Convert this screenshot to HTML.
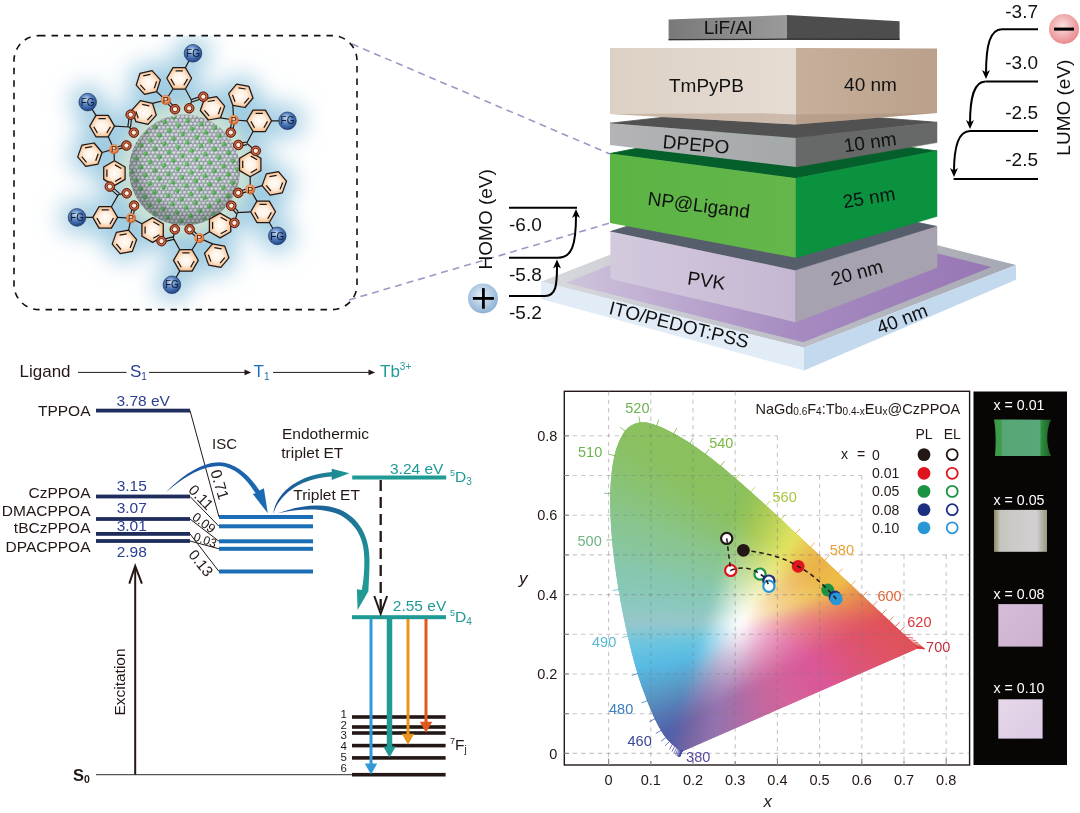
<!DOCTYPE html>
<html><head><meta charset="utf-8"><title>figure</title>
<style>
html,body{margin:0;padding:0;background:#fff;}
body{width:1080px;height:813px;overflow:hidden;position:relative;font-family:"Liberation Sans",sans-serif;}
svg{position:absolute;left:0;top:0;}
canvas{position:absolute;}
.fb rect{width:7px;height:7px;}
</style></head><body>
<svg class="fb" width="1080" height="813" viewBox="0 0 1080 813"><defs><clipPath id="fbc"><path d="M682.1 751.4 L682.1 751.4 L682.1 751.4 L682.0 751.4 L682.0 751.4 L682.0 751.4 L682.0 751.4 L682.0 751.4 L682.0 751.4 L682.0 751.4 L681.9 751.5 L681.9 751.5 L681.9 751.5 L681.9 751.5 L681.9 751.5 L681.9 751.5 L681.8 751.5 L681.8 751.5 L681.8 751.5 L681.8 751.5 L681.7 751.5 L681.7 751.5 L681.7 751.5 L681.7 751.5 L681.6 751.5 L681.6 751.5 L681.6 751.5 L681.5 751.5 L681.5 751.5 L681.5 751.5 L681.4 751.5 L681.4 751.5 L681.4 751.5 L681.3 751.5 L681.3 751.5 L681.2 751.5 L681.2 751.5 L681.1 751.5 L681.1 751.4 L681.0 751.4 L680.9 751.4 L680.9 751.3 L680.8 751.3 L680.7 751.2 L680.6 751.2 L680.5 751.1 L680.4 751.0 L680.3 750.9 L680.1 750.9 L680.0 750.8 L679.9 750.7 L679.7 750.5 L679.6 750.4 L679.4 750.3 L679.2 750.1 L679.0 750.0 L678.8 749.8 L678.6 749.6 L678.4 749.5 L678.2 749.3 L678.0 749.1 L677.7 748.9 L677.5 748.6 L677.2 748.4 L676.9 748.2 L676.6 747.9 L676.2 747.6 L675.9 747.4 L675.5 747.0 L675.1 746.7 L674.7 746.4 L674.3 746.0 L673.8 745.6 L673.3 745.3 L672.8 744.8 L672.3 744.4 L671.8 743.9 L671.2 743.4 L670.6 742.9 L670.0 742.3 L669.4 741.6 L668.7 740.9 L668.0 740.2 L667.3 739.5 L666.6 738.6 L665.8 737.6 L664.9 736.4 L664.0 735.1 L663.0 733.8 L662.0 732.2 L661.0 730.5 L659.9 728.5 L658.7 726.5 L657.5 724.2 L656.2 721.7 L654.9 718.9 L653.4 715.9 L652.0 712.6 L650.4 709.0 L648.8 705.0 L647.1 700.7 L645.3 696.0 L643.5 691.1 L641.5 685.7 L639.5 679.9 L637.6 673.7 L635.6 667.1 L633.7 659.9 L631.7 652.4 L629.7 644.5 L627.8 636.3 L625.8 627.6 L623.9 618.4 L622.0 608.9 L620.2 599.3 L618.5 589.6 L617.0 579.7 L615.5 569.6 L614.2 559.5 L613.0 549.5 L612.1 539.7 L611.3 530.0 L610.7 520.5 L610.3 511.2 L610.1 502.1 L610.2 493.4 L610.6 485.1 L611.2 477.1 L612.0 469.4 L613.1 462.2 L614.5 455.6 L616.1 449.6 L618.0 444.0 L620.2 439.1 L622.5 434.7 L625.0 431.0 L627.7 428.1 L630.6 425.9 L633.6 424.2 L636.8 423.1 L640.0 422.4 L643.2 422.2 L646.5 422.5 L649.9 423.3 L653.4 424.3 L656.8 425.4 L660.2 426.7 L663.7 428.2 L667.1 429.9 L670.5 431.7 L673.9 433.5 L677.2 435.3 L680.4 437.1 L683.6 439.1 L686.8 441.1 L690.0 443.1 L693.1 445.2 L696.3 447.3 L699.3 449.5 L702.4 451.7 L705.5 453.9 L708.6 456.2 L711.6 458.6 L714.7 461.0 L717.7 463.4 L720.8 465.9 L723.8 468.3 L726.8 470.9 L729.8 473.4 L732.9 476.0 L735.9 478.6 L738.9 481.2 L741.9 483.8 L744.9 486.5 L747.9 489.1 L750.9 491.8 L754.0 494.5 L757.0 497.2 L760.0 500.0 L763.0 502.7 L766.0 505.5 L769.1 508.2 L772.1 511.0 L775.1 513.8 L778.1 516.6 L781.1 519.3 L784.1 522.1 L787.1 524.9 L790.1 527.7 L793.0 530.4 L796.0 533.2 L799.0 535.9 L801.9 538.7 L804.8 541.4 L807.8 544.2 L810.7 546.9 L813.5 549.6 L816.4 552.3 L819.2 554.9 L822.1 557.6 L824.9 560.2 L827.7 562.8 L830.4 565.4 L833.1 568.0 L835.8 570.5 L838.5 573.0 L841.1 575.5 L843.7 577.9 L846.3 580.3 L848.9 582.7 L851.3 585.0 L853.8 587.3 L856.2 589.5 L858.5 591.7 L860.8 593.9 L863.0 596.0 L865.2 598.0 L867.3 600.0 L869.3 601.9 L871.3 603.7 L873.2 605.5 L875.1 607.3 L876.9 609.0 L878.7 610.7 L880.5 612.3 L882.1 613.9 L883.7 615.4 L885.3 616.8 L886.8 618.2 L888.2 619.5 L889.6 620.8 L890.9 622.0 L892.1 623.2 L893.3 624.4 L894.5 625.4 L895.6 626.5 L896.7 627.5 L897.7 628.4 L898.6 629.3 L899.5 630.2 L900.4 631.0 L901.3 631.8 L902.1 632.5 L902.8 633.2 L903.5 633.9 L904.3 634.6 L904.9 635.2 L905.6 635.8 L906.2 636.4 L906.8 636.9 L907.3 637.5 L907.9 638.0 L908.4 638.5 L908.9 639.0 L909.4 639.4 L909.9 639.9 L910.4 640.3 L910.8 640.7 L911.2 641.1 L911.6 641.5 L912.0 641.9 L912.4 642.2 L912.7 642.6 L913.1 642.9 L913.4 643.2 L913.7 643.4 L914.0 643.7 L914.3 643.9 L914.5 644.2 L914.7 644.4 L915.0 644.6 L915.2 644.8 L915.4 645.0 L915.6 645.2 L915.8 645.4 L915.9 645.5 L916.1 645.7 L916.3 645.8 L916.4 646.0 L916.5 646.1 L916.7 646.2 L916.8 646.3 L916.9 646.4 L917.0 646.5 L917.0 646.6 L917.1 646.6 L917.2 646.7 L917.3 646.8 L917.4 646.9 L917.4 646.9 L917.5 647.0 L917.6 647.1 L917.6 647.1 L917.7 647.2 L917.7 647.2 L917.8 647.3 L917.9 647.3 L917.9 647.4 L918.0 647.5 L918.0 647.5 L918.1 647.6 L918.1 647.6 L918.2 647.7 L918.3 647.7 L918.3 647.8 L918.3 647.8 L918.4 647.8 L918.4 647.9 L918.5 647.9 L918.5 647.9 L918.5 648.0 L918.5 648.0 L918.6 648.0 L918.6 648.0 L918.6 648.0 L918.6 648.0 L918.6 648.0 L918.6 648.1 L918.6 648.1 L918.6 648.1 L918.6 648.1 Z"/></clipPath><filter id="fbf" x="-5%" y="-5%" width="110%" height="110%"><feGaussianBlur stdDeviation="3"/></filter></defs><g clip-path="url(#fbc)"><g filter="url(#fbf)"><rect x="628" y="410" fill="#8ac05d"/><rect x="635" y="410" fill="#8ac05d"/><rect x="642" y="410" fill="#8ac05d"/><rect x="649" y="410" fill="#8ac05d"/><rect x="656" y="410" fill="#8ac05d"/><rect x="614" y="417" fill="#8ac05d"/><rect x="621" y="417" fill="#8ac05d"/><rect x="628" y="417" fill="#8ac05d"/><rect x="635" y="417" fill="#8ac05d"/><rect x="642" y="417" fill="#8ac05d"/><rect x="649" y="417" fill="#8ac05d"/><rect x="656" y="417" fill="#8ac05d"/><rect x="663" y="417" fill="#8ac05d"/><rect x="670" y="417" fill="#8ac05d"/><rect x="614" y="424" fill="#89c05d"/><rect x="621" y="424" fill="#8ac05d"/><rect x="628" y="424" fill="#8ac05d"/><rect x="635" y="424" fill="#8ac05d"/><rect x="642" y="424" fill="#8ac05d"/><rect x="649" y="424" fill="#8ac05d"/><rect x="656" y="424" fill="#8ac05d"/><rect x="663" y="424" fill="#8ac05d"/><rect x="670" y="424" fill="#8ac05d"/><rect x="677" y="424" fill="#8ac05d"/><rect x="684" y="424" fill="#8ac05d"/><rect x="607" y="431" fill="#89c062"/><rect x="614" y="431" fill="#89c05f"/><rect x="621" y="431" fill="#89c05e"/><rect x="628" y="431" fill="#8ac05d"/><rect x="635" y="431" fill="#8ac05d"/><rect x="642" y="431" fill="#8ac05d"/><rect x="649" y="431" fill="#8ac05d"/><rect x="656" y="431" fill="#8ac05d"/><rect x="663" y="431" fill="#8ac05d"/><rect x="670" y="431" fill="#8ac05d"/><rect x="677" y="431" fill="#8ac05d"/><rect x="684" y="431" fill="#8ac05d"/><rect x="691" y="431" fill="#8ac05d"/><rect x="698" y="431" fill="#8ac05d"/><rect x="607" y="438" fill="#89c065"/><rect x="614" y="438" fill="#89c062"/><rect x="621" y="438" fill="#89c060"/><rect x="628" y="438" fill="#89c05e"/><rect x="635" y="438" fill="#8ac05d"/><rect x="642" y="438" fill="#8ac05d"/><rect x="649" y="438" fill="#8ac05d"/><rect x="656" y="438" fill="#8ac05d"/><rect x="663" y="438" fill="#8ac05d"/><rect x="670" y="438" fill="#8ac05d"/><rect x="677" y="438" fill="#8ac05d"/><rect x="684" y="438" fill="#8ac05d"/><rect x="691" y="438" fill="#8ac05d"/><rect x="698" y="438" fill="#8ac05d"/><rect x="705" y="438" fill="#8ac05d"/><rect x="607" y="445" fill="#89c168"/><rect x="614" y="445" fill="#89c066"/><rect x="621" y="445" fill="#89c063"/><rect x="628" y="445" fill="#89c061"/><rect x="635" y="445" fill="#89c05f"/><rect x="642" y="445" fill="#89c05d"/><rect x="649" y="445" fill="#8ac05d"/><rect x="656" y="445" fill="#8ac05d"/><rect x="663" y="445" fill="#8ac05d"/><rect x="670" y="445" fill="#8ac05d"/><rect x="677" y="445" fill="#8ac05d"/><rect x="684" y="445" fill="#8ac05d"/><rect x="691" y="445" fill="#8ac05d"/><rect x="698" y="445" fill="#8ac05d"/><rect x="705" y="445" fill="#8ac05d"/><rect x="712" y="445" fill="#8ac05d"/><rect x="600" y="452" fill="#89c16d"/><rect x="607" y="452" fill="#89c16b"/><rect x="614" y="452" fill="#89c169"/><rect x="621" y="452" fill="#89c167"/><rect x="628" y="452" fill="#89c064"/><rect x="635" y="452" fill="#89c062"/><rect x="642" y="452" fill="#89c060"/><rect x="649" y="452" fill="#89c05e"/><rect x="656" y="452" fill="#8ac05d"/><rect x="663" y="452" fill="#8ac05d"/><rect x="670" y="452" fill="#8ac05d"/><rect x="677" y="452" fill="#8ac05d"/><rect x="684" y="452" fill="#8ac05d"/><rect x="691" y="452" fill="#8ac05d"/><rect x="698" y="452" fill="#8ac05d"/><rect x="705" y="452" fill="#8ac05d"/><rect x="712" y="452" fill="#8ac05d"/><rect x="719" y="452" fill="#8ac05d"/><rect x="726" y="452" fill="#8ac05d"/><rect x="600" y="459" fill="#89c270"/><rect x="607" y="459" fill="#89c16e"/><rect x="614" y="459" fill="#89c16c"/><rect x="621" y="459" fill="#89c16a"/><rect x="628" y="459" fill="#89c168"/><rect x="635" y="459" fill="#89c066"/><rect x="642" y="459" fill="#89c063"/><rect x="649" y="459" fill="#89c061"/><rect x="656" y="459" fill="#89c05f"/><rect x="663" y="459" fill="#8ac05d"/><rect x="670" y="459" fill="#8ac05d"/><rect x="677" y="459" fill="#8ac05d"/><rect x="684" y="459" fill="#8ac05d"/><rect x="691" y="459" fill="#8ac05d"/><rect x="698" y="459" fill="#8ac05d"/><rect x="705" y="459" fill="#8ac05d"/><rect x="712" y="459" fill="#8ac05d"/><rect x="719" y="459" fill="#8ac05d"/><rect x="726" y="459" fill="#8ac05d"/><rect x="733" y="459" fill="#8ac05d"/><rect x="600" y="466" fill="#89c274"/><rect x="607" y="466" fill="#89c272"/><rect x="614" y="466" fill="#89c270"/><rect x="621" y="466" fill="#89c16e"/><rect x="628" y="466" fill="#89c16b"/><rect x="635" y="466" fill="#89c169"/><rect x="642" y="466" fill="#89c167"/><rect x="649" y="466" fill="#89c064"/><rect x="656" y="466" fill="#89c062"/><rect x="663" y="466" fill="#89c05f"/><rect x="670" y="466" fill="#89c05e"/><rect x="677" y="466" fill="#8ac05d"/><rect x="684" y="466" fill="#8ac05d"/><rect x="691" y="466" fill="#8ac05d"/><rect x="698" y="466" fill="#8ac05d"/><rect x="705" y="466" fill="#8ac05d"/><rect x="712" y="466" fill="#8ac05d"/><rect x="719" y="466" fill="#8ac05d"/><rect x="726" y="466" fill="#8ac05d"/><rect x="733" y="466" fill="#8ac05d"/><rect x="740" y="466" fill="#8ac05d"/><rect x="600" y="473" fill="#89c278"/><rect x="607" y="473" fill="#89c276"/><rect x="614" y="473" fill="#89c274"/><rect x="621" y="473" fill="#89c271"/><rect x="628" y="473" fill="#89c16f"/><rect x="635" y="473" fill="#89c16d"/><rect x="642" y="473" fill="#89c16b"/><rect x="649" y="473" fill="#89c168"/><rect x="656" y="473" fill="#89c066"/><rect x="663" y="473" fill="#89c063"/><rect x="670" y="473" fill="#89c060"/><rect x="677" y="473" fill="#89c05e"/><rect x="684" y="473" fill="#8ac05d"/><rect x="691" y="473" fill="#8ac05d"/><rect x="698" y="473" fill="#8ac05d"/><rect x="705" y="473" fill="#8ac05d"/><rect x="712" y="473" fill="#8ac05d"/><rect x="719" y="473" fill="#8ac05d"/><rect x="726" y="473" fill="#8ac05d"/><rect x="733" y="473" fill="#8ac05d"/><rect x="740" y="473" fill="#8ac05d"/><rect x="747" y="473" fill="#8dc15b"/><rect x="600" y="480" fill="#89c37c"/><rect x="607" y="480" fill="#89c37a"/><rect x="614" y="480" fill="#89c278"/><rect x="621" y="480" fill="#89c275"/><rect x="628" y="480" fill="#89c273"/><rect x="635" y="480" fill="#89c271"/><rect x="642" y="480" fill="#89c16e"/><rect x="649" y="480" fill="#89c16c"/><rect x="656" y="480" fill="#89c16a"/><rect x="663" y="480" fill="#89c167"/><rect x="670" y="480" fill="#89c064"/><rect x="677" y="480" fill="#89c062"/><rect x="684" y="480" fill="#89c05f"/><rect x="691" y="480" fill="#8ac05d"/><rect x="698" y="480" fill="#8ac05d"/><rect x="705" y="480" fill="#8ac05d"/><rect x="712" y="480" fill="#8ac05d"/><rect x="719" y="480" fill="#8ac05d"/><rect x="726" y="480" fill="#8ac05d"/><rect x="733" y="480" fill="#8ac05d"/><rect x="740" y="480" fill="#8bc05d"/><rect x="747" y="480" fill="#8fc15b"/><rect x="754" y="480" fill="#96c359"/><rect x="600" y="487" fill="#89c380"/><rect x="607" y="487" fill="#89c37e"/><rect x="614" y="487" fill="#89c37c"/><rect x="621" y="487" fill="#89c37a"/><rect x="628" y="487" fill="#89c277"/><rect x="635" y="487" fill="#89c275"/><rect x="642" y="487" fill="#89c273"/><rect x="649" y="487" fill="#89c270"/><rect x="656" y="487" fill="#89c16e"/><rect x="663" y="487" fill="#89c16b"/><rect x="670" y="487" fill="#89c168"/><rect x="677" y="487" fill="#89c066"/><rect x="684" y="487" fill="#89c063"/><rect x="691" y="487" fill="#89c060"/><rect x="698" y="487" fill="#89c05e"/><rect x="705" y="487" fill="#8ac05d"/><rect x="712" y="487" fill="#8ac05d"/><rect x="719" y="487" fill="#8ac05d"/><rect x="726" y="487" fill="#8ac05d"/><rect x="733" y="487" fill="#8ac05d"/><rect x="740" y="487" fill="#8cc05c"/><rect x="747" y="487" fill="#91c25a"/><rect x="754" y="487" fill="#98c458"/><rect x="761" y="487" fill="#a0c756"/><rect x="768" y="487" fill="#a7ca55"/><rect x="600" y="494" fill="#89c484"/><rect x="607" y="494" fill="#89c382"/><rect x="614" y="494" fill="#89c380"/><rect x="621" y="494" fill="#89c37e"/><rect x="628" y="494" fill="#89c37c"/><rect x="635" y="494" fill="#89c379"/><rect x="642" y="494" fill="#89c277"/><rect x="649" y="494" fill="#89c275"/><rect x="656" y="494" fill="#89c272"/><rect x="663" y="494" fill="#89c16f"/><rect x="670" y="494" fill="#89c16d"/><rect x="677" y="494" fill="#89c16a"/><rect x="684" y="494" fill="#89c167"/><rect x="691" y="494" fill="#89c064"/><rect x="698" y="494" fill="#89c061"/><rect x="705" y="494" fill="#89c05e"/><rect x="712" y="494" fill="#8ac05d"/><rect x="719" y="494" fill="#8ac05d"/><rect x="726" y="494" fill="#8ac05d"/><rect x="733" y="494" fill="#8ac05d"/><rect x="740" y="494" fill="#8dc15c"/><rect x="747" y="494" fill="#94c359"/><rect x="754" y="494" fill="#9bc557"/><rect x="761" y="494" fill="#a3c855"/><rect x="768" y="494" fill="#aacb56"/><rect x="775" y="494" fill="#b2cf57"/><rect x="600" y="501" fill="#89c489"/><rect x="607" y="501" fill="#89c487"/><rect x="614" y="501" fill="#89c485"/><rect x="621" y="501" fill="#89c383"/><rect x="628" y="501" fill="#89c380"/><rect x="635" y="501" fill="#89c37e"/><rect x="642" y="501" fill="#89c37c"/><rect x="649" y="501" fill="#89c279"/><rect x="656" y="501" fill="#89c277"/><rect x="663" y="501" fill="#89c274"/><rect x="670" y="501" fill="#89c271"/><rect x="677" y="501" fill="#89c16f"/><rect x="684" y="501" fill="#89c16c"/><rect x="691" y="501" fill="#89c169"/><rect x="698" y="501" fill="#89c066"/><rect x="705" y="501" fill="#89c062"/><rect x="712" y="501" fill="#89c05f"/><rect x="719" y="501" fill="#8ac05e"/><rect x="726" y="501" fill="#8ac05d"/><rect x="733" y="501" fill="#8bc05d"/><rect x="740" y="501" fill="#8fc15b"/><rect x="747" y="501" fill="#96c458"/><rect x="754" y="501" fill="#9ec656"/><rect x="761" y="501" fill="#a6c955"/><rect x="768" y="501" fill="#aecd56"/><rect x="775" y="501" fill="#b6d058"/><rect x="782" y="501" fill="#bfd459"/><rect x="600" y="508" fill="#88c58d"/><rect x="607" y="508" fill="#89c48c"/><rect x="614" y="508" fill="#89c48a"/><rect x="621" y="508" fill="#89c487"/><rect x="628" y="508" fill="#89c485"/><rect x="635" y="508" fill="#89c483"/><rect x="642" y="508" fill="#89c381"/><rect x="649" y="508" fill="#89c37e"/><rect x="656" y="508" fill="#89c37c"/><rect x="663" y="508" fill="#89c279"/><rect x="670" y="508" fill="#89c276"/><rect x="677" y="508" fill="#89c273"/><rect x="684" y="508" fill="#89c271"/><rect x="691" y="508" fill="#89c16e"/><rect x="698" y="508" fill="#89c16a"/><rect x="705" y="508" fill="#89c167"/><rect x="712" y="508" fill="#89c064"/><rect x="719" y="508" fill="#89c061"/><rect x="726" y="508" fill="#89c05e"/><rect x="733" y="508" fill="#8cc05d"/><rect x="740" y="508" fill="#91c25a"/><rect x="747" y="508" fill="#99c458"/><rect x="754" y="508" fill="#a1c755"/><rect x="761" y="508" fill="#a9cb56"/><rect x="768" y="508" fill="#b1ce57"/><rect x="775" y="508" fill="#bad259"/><rect x="782" y="508" fill="#c3d75a"/><rect x="789" y="508" fill="#ccdb5c"/><rect x="600" y="515" fill="#88c591"/><rect x="607" y="515" fill="#88c58f"/><rect x="614" y="515" fill="#88c58e"/><rect x="621" y="515" fill="#88c58c"/><rect x="628" y="515" fill="#89c48a"/><rect x="635" y="515" fill="#89c488"/><rect x="642" y="515" fill="#89c486"/><rect x="649" y="515" fill="#89c483"/><rect x="656" y="515" fill="#89c381"/><rect x="663" y="515" fill="#89c37e"/><rect x="670" y="515" fill="#89c37c"/><rect x="677" y="515" fill="#89c279"/><rect x="684" y="515" fill="#89c276"/><rect x="691" y="515" fill="#89c273"/><rect x="698" y="515" fill="#89c270"/><rect x="705" y="515" fill="#89c16c"/><rect x="712" y="515" fill="#89c169"/><rect x="719" y="515" fill="#89c066"/><rect x="726" y="515" fill="#89c062"/><rect x="733" y="515" fill="#8dc15e"/><rect x="740" y="515" fill="#94c35a"/><rect x="747" y="515" fill="#9cc557"/><rect x="754" y="515" fill="#a4c855"/><rect x="761" y="515" fill="#adcc56"/><rect x="768" y="515" fill="#b6d058"/><rect x="775" y="515" fill="#bfd459"/><rect x="782" y="515" fill="#c8d95b"/><rect x="789" y="515" fill="#d1dd5d"/><rect x="796" y="515" fill="#dbe05e"/><rect x="600" y="522" fill="#88c594"/><rect x="607" y="522" fill="#88c593"/><rect x="614" y="522" fill="#88c592"/><rect x="621" y="522" fill="#88c590"/><rect x="628" y="522" fill="#88c58f"/><rect x="635" y="522" fill="#88c58d"/><rect x="642" y="522" fill="#89c48b"/><rect x="649" y="522" fill="#89c489"/><rect x="656" y="522" fill="#89c486"/><rect x="663" y="522" fill="#89c484"/><rect x="670" y="522" fill="#89c381"/><rect x="677" y="522" fill="#89c37e"/><rect x="684" y="522" fill="#89c37b"/><rect x="691" y="522" fill="#89c278"/><rect x="698" y="522" fill="#89c275"/><rect x="705" y="522" fill="#89c272"/><rect x="712" y="522" fill="#89c16f"/><rect x="719" y="522" fill="#89c16b"/><rect x="726" y="522" fill="#8ac168"/><rect x="733" y="522" fill="#90c364"/><rect x="740" y="522" fill="#98c55e"/><rect x="747" y="522" fill="#9fc758"/><rect x="754" y="522" fill="#a8ca56"/><rect x="761" y="522" fill="#b1ce57"/><rect x="768" y="522" fill="#bad258"/><rect x="775" y="522" fill="#c3d75a"/><rect x="782" y="522" fill="#cddb5d"/><rect x="789" y="522" fill="#d7df5e"/><rect x="796" y="522" fill="#e0e05f"/><rect x="803" y="522" fill="#e5db5d"/><rect x="600" y="529" fill="#88c598"/><rect x="607" y="529" fill="#88c597"/><rect x="614" y="529" fill="#88c596"/><rect x="621" y="529" fill="#88c594"/><rect x="628" y="529" fill="#88c593"/><rect x="635" y="529" fill="#88c591"/><rect x="642" y="529" fill="#88c590"/><rect x="649" y="529" fill="#88c58e"/><rect x="656" y="529" fill="#89c48c"/><rect x="663" y="529" fill="#89c48a"/><rect x="670" y="529" fill="#89c487"/><rect x="677" y="529" fill="#89c484"/><rect x="684" y="529" fill="#89c381"/><rect x="691" y="529" fill="#89c37e"/><rect x="698" y="529" fill="#89c37b"/><rect x="705" y="529" fill="#89c278"/><rect x="712" y="529" fill="#89c275"/><rect x="719" y="529" fill="#89c271"/><rect x="726" y="529" fill="#8cc26e"/><rect x="733" y="529" fill="#95c56b"/><rect x="740" y="529" fill="#9dc764"/><rect x="747" y="529" fill="#a4c95d"/><rect x="754" y="529" fill="#accc59"/><rect x="761" y="529" fill="#b5d058"/><rect x="768" y="529" fill="#bfd559"/><rect x="775" y="529" fill="#c9d95c"/><rect x="782" y="529" fill="#d3de5e"/><rect x="789" y="529" fill="#dde05f"/><rect x="796" y="529" fill="#e4dd5e"/><rect x="803" y="529" fill="#e7d55a"/><rect x="810" y="529" fill="#e8cb56"/><rect x="600" y="536" fill="#88c59c"/><rect x="607" y="536" fill="#88c59b"/><rect x="614" y="536" fill="#88c59a"/><rect x="621" y="536" fill="#88c598"/><rect x="628" y="536" fill="#88c597"/><rect x="635" y="536" fill="#88c595"/><rect x="642" y="536" fill="#88c594"/><rect x="649" y="536" fill="#88c592"/><rect x="656" y="536" fill="#88c591"/><rect x="663" y="536" fill="#88c58f"/><rect x="670" y="536" fill="#88c58d"/><rect x="677" y="536" fill="#89c48b"/><rect x="684" y="536" fill="#89c488"/><rect x="691" y="536" fill="#89c485"/><rect x="698" y="536" fill="#89c382"/><rect x="705" y="536" fill="#89c37f"/><rect x="712" y="536" fill="#89c37b"/><rect x="719" y="536" fill="#89c278"/><rect x="726" y="536" fill="#8fc475"/><rect x="733" y="536" fill="#99c873"/><rect x="740" y="536" fill="#a2ca6c"/><rect x="747" y="536" fill="#aacc65"/><rect x="754" y="536" fill="#b2cf5f"/><rect x="761" y="536" fill="#bbd35c"/><rect x="768" y="536" fill="#c4d75c"/><rect x="775" y="536" fill="#cedc5d"/><rect x="782" y="536" fill="#d9df5e"/><rect x="789" y="536" fill="#e2df5e"/><rect x="796" y="536" fill="#e6d85b"/><rect x="803" y="536" fill="#e8ce57"/><rect x="810" y="536" fill="#e9c553"/><rect x="817" y="536" fill="#e9bd4f"/><rect x="600" y="543" fill="#87c6a1"/><rect x="607" y="543" fill="#87c69f"/><rect x="614" y="543" fill="#87c69e"/><rect x="621" y="543" fill="#87c69d"/><rect x="628" y="543" fill="#88c59b"/><rect x="635" y="543" fill="#88c59a"/><rect x="642" y="543" fill="#88c598"/><rect x="649" y="543" fill="#88c597"/><rect x="656" y="543" fill="#88c595"/><rect x="663" y="543" fill="#88c594"/><rect x="670" y="543" fill="#88c592"/><rect x="677" y="543" fill="#88c590"/><rect x="684" y="543" fill="#88c58e"/><rect x="691" y="543" fill="#89c48c"/><rect x="698" y="543" fill="#89c489"/><rect x="705" y="543" fill="#89c486"/><rect x="712" y="543" fill="#89c382"/><rect x="719" y="543" fill="#8ac37f"/><rect x="726" y="543" fill="#92c67d"/><rect x="733" y="543" fill="#9fcb7b"/><rect x="740" y="543" fill="#a8ce75"/><rect x="747" y="543" fill="#b0d06e"/><rect x="754" y="543" fill="#b8d369"/><rect x="761" y="543" fill="#c1d765"/><rect x="768" y="543" fill="#cbdb62"/><rect x="775" y="543" fill="#d5de60"/><rect x="782" y="543" fill="#dfe05f"/><rect x="789" y="543" fill="#e5db5d"/><rect x="796" y="543" fill="#e8d158"/><rect x="803" y="543" fill="#e9c754"/><rect x="810" y="543" fill="#e9bf50"/><rect x="817" y="543" fill="#eab84d"/><rect x="824" y="543" fill="#eab34a"/><rect x="600" y="550" fill="#87c6a5"/><rect x="607" y="550" fill="#87c6a4"/><rect x="614" y="550" fill="#87c6a3"/><rect x="621" y="550" fill="#87c6a2"/><rect x="628" y="550" fill="#87c6a0"/><rect x="635" y="550" fill="#87c69f"/><rect x="642" y="550" fill="#87c69d"/><rect x="649" y="550" fill="#88c59c"/><rect x="656" y="550" fill="#88c59a"/><rect x="663" y="550" fill="#88c599"/><rect x="670" y="550" fill="#88c597"/><rect x="677" y="550" fill="#88c595"/><rect x="684" y="550" fill="#88c593"/><rect x="691" y="550" fill="#88c591"/><rect x="698" y="550" fill="#88c58f"/><rect x="705" y="550" fill="#88c58d"/><rect x="712" y="550" fill="#89c48a"/><rect x="719" y="550" fill="#8cc587"/><rect x="726" y="550" fill="#96c985"/><rect x="733" y="550" fill="#a4ce84"/><rect x="740" y="550" fill="#aed17e"/><rect x="747" y="550" fill="#b7d477"/><rect x="754" y="550" fill="#c0d773"/><rect x="761" y="550" fill="#c9db6f"/><rect x="768" y="550" fill="#d3df6b"/><rect x="775" y="550" fill="#dce167"/><rect x="782" y="550" fill="#e4de61"/><rect x="789" y="550" fill="#e7d45a"/><rect x="796" y="550" fill="#e8ca55"/><rect x="803" y="550" fill="#e9c151"/><rect x="810" y="550" fill="#eab94d"/><rect x="817" y="550" fill="#eab44a"/><rect x="824" y="550" fill="#ebb148"/><rect x="831" y="550" fill="#ebb348"/><rect x="600" y="557" fill="#87c6aa"/><rect x="607" y="557" fill="#87c6a9"/><rect x="614" y="557" fill="#87c6a8"/><rect x="621" y="557" fill="#87c6a7"/><rect x="628" y="557" fill="#87c6a5"/><rect x="635" y="557" fill="#87c6a4"/><rect x="642" y="557" fill="#87c6a3"/><rect x="649" y="557" fill="#87c6a1"/><rect x="656" y="557" fill="#87c6a0"/><rect x="663" y="557" fill="#87c69e"/><rect x="670" y="557" fill="#88c59c"/><rect x="677" y="557" fill="#88c59b"/><rect x="684" y="557" fill="#88c599"/><rect x="691" y="557" fill="#88c597"/><rect x="698" y="557" fill="#88c595"/><rect x="705" y="557" fill="#88c593"/><rect x="712" y="557" fill="#88c591"/><rect x="719" y="557" fill="#8ec78f"/><rect x="726" y="557" fill="#9bcc8f"/><rect x="733" y="557" fill="#aad28e"/><rect x="740" y="557" fill="#b5d588"/><rect x="747" y="557" fill="#bed882"/><rect x="754" y="557" fill="#c7db7e"/><rect x="761" y="557" fill="#d1df7b"/><rect x="768" y="557" fill="#dbe377"/><rect x="775" y="557" fill="#e4e270"/><rect x="782" y="557" fill="#e8da66"/><rect x="789" y="557" fill="#e8cd5a"/><rect x="796" y="557" fill="#e9c353"/><rect x="803" y="557" fill="#eabb4e"/><rect x="810" y="557" fill="#eab54b"/><rect x="817" y="557" fill="#ebb248"/><rect x="824" y="557" fill="#ebb348"/><rect x="831" y="557" fill="#ebb648"/><rect x="838" y="557" fill="#ecb847"/><rect x="607" y="564" fill="#87c7ad"/><rect x="614" y="564" fill="#87c7ad"/><rect x="621" y="564" fill="#87c6ac"/><rect x="628" y="564" fill="#87c6ab"/><rect x="635" y="564" fill="#87c6aa"/><rect x="642" y="564" fill="#87c6a8"/><rect x="649" y="564" fill="#87c6a7"/><rect x="656" y="564" fill="#87c6a5"/><rect x="663" y="564" fill="#87c6a4"/><rect x="670" y="564" fill="#87c6a2"/><rect x="677" y="564" fill="#87c6a1"/><rect x="684" y="564" fill="#87c69f"/><rect x="691" y="564" fill="#87c69d"/><rect x="698" y="564" fill="#88c59b"/><rect x="705" y="564" fill="#88c599"/><rect x="712" y="564" fill="#89c597"/><rect x="719" y="564" fill="#91c997"/><rect x="726" y="564" fill="#a1cf99"/><rect x="733" y="564" fill="#b1d598"/><rect x="740" y="564" fill="#bdd993"/><rect x="747" y="564" fill="#c6dc8d"/><rect x="754" y="564" fill="#cfe08a"/><rect x="761" y="564" fill="#dae487"/><rect x="768" y="564" fill="#e3e682"/><rect x="775" y="564" fill="#e9e078"/><rect x="782" y="564" fill="#ebd46b"/><rect x="789" y="564" fill="#eac85e"/><rect x="796" y="564" fill="#eabe54"/><rect x="803" y="564" fill="#eab64d"/><rect x="810" y="564" fill="#ebb249"/><rect x="817" y="564" fill="#ebb348"/><rect x="824" y="564" fill="#ebb548"/><rect x="831" y="564" fill="#ecb847"/><rect x="838" y="564" fill="#ecba47"/><rect x="845" y="564" fill="#ecbb47"/><rect x="607" y="571" fill="#87c7b0"/><rect x="614" y="571" fill="#87c7b0"/><rect x="621" y="571" fill="#87c7af"/><rect x="628" y="571" fill="#87c7af"/><rect x="635" y="571" fill="#87c7ae"/><rect x="642" y="571" fill="#87c7ad"/><rect x="649" y="571" fill="#87c7ac"/><rect x="656" y="571" fill="#87c6ab"/><rect x="663" y="571" fill="#87c6aa"/><rect x="670" y="571" fill="#87c6a9"/><rect x="677" y="571" fill="#87c6a7"/><rect x="684" y="571" fill="#87c6a5"/><rect x="691" y="571" fill="#87c6a4"/><rect x="698" y="571" fill="#87c6a2"/><rect x="705" y="571" fill="#87c6a0"/><rect x="712" y="571" fill="#8ac79e"/><rect x="719" y="571" fill="#95cba0"/><rect x="726" y="571" fill="#a7d3a3"/><rect x="733" y="571" fill="#b8d9a3"/><rect x="740" y="571" fill="#c4dd9f"/><rect x="747" y="571" fill="#cee19a"/><rect x="754" y="571" fill="#d8e597"/><rect x="761" y="571" fill="#e3e894"/><rect x="768" y="571" fill="#eae68c"/><rect x="775" y="571" fill="#eddb7e"/><rect x="782" y="571" fill="#ecce6f"/><rect x="789" y="571" fill="#ecc363"/><rect x="796" y="571" fill="#ecbb58"/><rect x="803" y="571" fill="#ebb650"/><rect x="810" y="571" fill="#ebb44b"/><rect x="817" y="571" fill="#ebb548"/><rect x="824" y="571" fill="#ecb847"/><rect x="831" y="571" fill="#ecba47"/><rect x="838" y="571" fill="#ecbb47"/><rect x="845" y="571" fill="#ecb947"/><rect x="852" y="571" fill="#ebb248"/><rect x="607" y="578" fill="#87c7b3"/><rect x="614" y="578" fill="#87c7b3"/><rect x="621" y="578" fill="#87c7b2"/><rect x="628" y="578" fill="#87c7b2"/><rect x="635" y="578" fill="#87c7b1"/><rect x="642" y="578" fill="#87c7b1"/><rect x="649" y="578" fill="#87c7b0"/><rect x="656" y="578" fill="#87c7af"/><rect x="663" y="578" fill="#87c7af"/><rect x="670" y="578" fill="#87c7ae"/><rect x="677" y="578" fill="#87c7ad"/><rect x="684" y="578" fill="#87c7ac"/><rect x="691" y="578" fill="#87c6ab"/><rect x="698" y="578" fill="#87c6a9"/><rect x="705" y="578" fill="#87c6a7"/><rect x="712" y="578" fill="#8cc8a7"/><rect x="719" y="578" fill="#9bceaa"/><rect x="726" y="578" fill="#aed7ae"/><rect x="733" y="578" fill="#c0deaf"/><rect x="740" y="578" fill="#cde2ab"/><rect x="747" y="578" fill="#d7e6a7"/><rect x="754" y="578" fill="#e1eaa5"/><rect x="761" y="578" fill="#ebeaa0"/><rect x="768" y="578" fill="#efe293"/><rect x="775" y="578" fill="#efd582"/><rect x="782" y="578" fill="#eec973"/><rect x="789" y="578" fill="#eec167"/><rect x="796" y="578" fill="#edbc5d"/><rect x="803" y="578" fill="#edba56"/><rect x="810" y="578" fill="#ecb94f"/><rect x="817" y="578" fill="#ecb94b"/><rect x="824" y="578" fill="#ecba48"/><rect x="831" y="578" fill="#ecbb47"/><rect x="838" y="578" fill="#ecb847"/><rect x="845" y="578" fill="#ebb149"/><rect x="852" y="578" fill="#eaa74a"/><rect x="859" y="578" fill="#e99d4c"/><rect x="607" y="585" fill="#88c7b7"/><rect x="614" y="585" fill="#88c7b6"/><rect x="621" y="585" fill="#88c7b6"/><rect x="628" y="585" fill="#88c7b5"/><rect x="635" y="585" fill="#88c7b5"/><rect x="642" y="585" fill="#87c7b4"/><rect x="649" y="585" fill="#87c7b4"/><rect x="656" y="585" fill="#87c7b3"/><rect x="663" y="585" fill="#87c7b3"/><rect x="670" y="585" fill="#87c7b2"/><rect x="677" y="585" fill="#87c7b1"/><rect x="684" y="585" fill="#87c7b1"/><rect x="691" y="585" fill="#87c7b0"/><rect x="698" y="585" fill="#87c7af"/><rect x="705" y="585" fill="#88c7ae"/><rect x="712" y="585" fill="#8fcab0"/><rect x="719" y="585" fill="#a1d2b5"/><rect x="726" y="585" fill="#b6dbba"/><rect x="733" y="585" fill="#c8e2bc"/><rect x="740" y="585" fill="#d6e7b9"/><rect x="747" y="585" fill="#e0ebb6"/><rect x="754" y="585" fill="#eaeeb3"/><rect x="761" y="585" fill="#f0e9a9"/><rect x="768" y="585" fill="#f1dd97"/><rect x="775" y="585" fill="#f0d086"/><rect x="782" y="585" fill="#f0c778"/><rect x="789" y="585" fill="#efc36d"/><rect x="796" y="585" fill="#eec164"/><rect x="803" y="585" fill="#eec05c"/><rect x="810" y="585" fill="#edbf55"/><rect x="817" y="585" fill="#edbd50"/><rect x="824" y="585" fill="#edba4b"/><rect x="831" y="585" fill="#ecb649"/><rect x="838" y="585" fill="#ebaf49"/><rect x="845" y="585" fill="#e9a44b"/><rect x="852" y="585" fill="#e89a4c"/><rect x="859" y="585" fill="#e7924e"/><rect x="866" y="585" fill="#e6894f"/><rect x="607" y="592" fill="#88c7bb"/><rect x="614" y="592" fill="#88c7ba"/><rect x="621" y="592" fill="#88c7ba"/><rect x="628" y="592" fill="#88c7b9"/><rect x="635" y="592" fill="#88c7b9"/><rect x="642" y="592" fill="#88c7b8"/><rect x="649" y="592" fill="#88c7b8"/><rect x="656" y="592" fill="#88c7b7"/><rect x="663" y="592" fill="#88c7b7"/><rect x="670" y="592" fill="#88c7b6"/><rect x="677" y="592" fill="#88c7b6"/><rect x="684" y="592" fill="#88c7b5"/><rect x="691" y="592" fill="#87c7b4"/><rect x="698" y="592" fill="#87c7b4"/><rect x="705" y="592" fill="#89c8b4"/><rect x="712" y="592" fill="#94cdb9"/><rect x="719" y="592" fill="#a8d6c0"/><rect x="726" y="592" fill="#bedfc6"/><rect x="733" y="592" fill="#d1e7c9"/><rect x="740" y="592" fill="#dfecc8"/><rect x="747" y="592" fill="#eaf0c5"/><rect x="754" y="592" fill="#f2efbe"/><rect x="761" y="592" fill="#f4e5ae"/><rect x="768" y="592" fill="#f3d89b"/><rect x="775" y="592" fill="#f2d08a"/><rect x="782" y="592" fill="#f1cb7e"/><rect x="789" y="592" fill="#f0c873"/><rect x="796" y="592" fill="#efc66a"/><rect x="803" y="592" fill="#efc362"/><rect x="810" y="592" fill="#eebe5c"/><rect x="817" y="592" fill="#edb857"/><rect x="824" y="592" fill="#ecb053"/><rect x="831" y="592" fill="#eaa94f"/><rect x="838" y="592" fill="#e9a14d"/><rect x="845" y="592" fill="#e8974d"/><rect x="852" y="592" fill="#e78e4e"/><rect x="859" y="592" fill="#e68650"/><rect x="866" y="592" fill="#e57f51"/><rect x="873" y="592" fill="#e47852"/><rect x="880" y="592" fill="#e37253"/><rect x="607" y="599" fill="#8bc7be"/><rect x="614" y="599" fill="#8ac7be"/><rect x="621" y="599" fill="#8ac7be"/><rect x="628" y="599" fill="#8ac7bd"/><rect x="635" y="599" fill="#8ac7bd"/><rect x="642" y="599" fill="#89c7bd"/><rect x="649" y="599" fill="#89c7bc"/><rect x="656" y="599" fill="#89c7bc"/><rect x="663" y="599" fill="#89c7bb"/><rect x="670" y="599" fill="#89c7bb"/><rect x="677" y="599" fill="#89c7bb"/><rect x="684" y="599" fill="#88c7ba"/><rect x="691" y="599" fill="#88c7b9"/><rect x="698" y="599" fill="#88c7b9"/><rect x="705" y="599" fill="#8dc9ba"/><rect x="712" y="599" fill="#9bd0c1"/><rect x="719" y="599" fill="#b1dacb"/><rect x="726" y="599" fill="#c6e4d3"/><rect x="733" y="599" fill="#daedd7"/><rect x="740" y="599" fill="#e9f2d7"/><rect x="747" y="599" fill="#f3f4d3"/><rect x="754" y="599" fill="#f6edc6"/><rect x="761" y="599" fill="#f6e1b1"/><rect x="768" y="599" fill="#f4d89f"/><rect x="775" y="599" fill="#f3d390"/><rect x="782" y="599" fill="#f2ce84"/><rect x="789" y="599" fill="#f1c97a"/><rect x="796" y="599" fill="#f0c171"/><rect x="803" y="599" fill="#eeb96b"/><rect x="810" y="599" fill="#ecb065"/><rect x="817" y="599" fill="#eba760"/><rect x="824" y="599" fill="#ea9f5c"/><rect x="831" y="599" fill="#e89758"/><rect x="838" y="599" fill="#e79054"/><rect x="845" y="599" fill="#e68a52"/><rect x="852" y="599" fill="#e58351"/><rect x="859" y="599" fill="#e57b52"/><rect x="866" y="599" fill="#e47453"/><rect x="873" y="599" fill="#e36e54"/><rect x="880" y="599" fill="#e26855"/><rect x="887" y="599" fill="#e26356"/><rect x="607" y="606" fill="#8fc7c2"/><rect x="614" y="606" fill="#8fc7c2"/><rect x="621" y="606" fill="#8ec7c2"/><rect x="628" y="606" fill="#8ec7c1"/><rect x="635" y="606" fill="#8ec7c1"/><rect x="642" y="606" fill="#8ec7c1"/><rect x="649" y="606" fill="#8dc7c1"/><rect x="656" y="606" fill="#8dc7c0"/><rect x="663" y="606" fill="#8dc7c0"/><rect x="670" y="606" fill="#8cc7c0"/><rect x="677" y="606" fill="#8cc7c0"/><rect x="684" y="606" fill="#8cc7bf"/><rect x="691" y="606" fill="#8cc7bf"/><rect x="698" y="606" fill="#8cc7bf"/><rect x="705" y="606" fill="#93cbc2"/><rect x="712" y="606" fill="#a5d4cb"/><rect x="719" y="606" fill="#bbdfd5"/><rect x="726" y="606" fill="#d0e9df"/><rect x="733" y="606" fill="#e4f2e5"/><rect x="740" y="606" fill="#f2f7e6"/><rect x="747" y="606" fill="#f8f4dd"/><rect x="754" y="606" fill="#f8eaca"/><rect x="761" y="606" fill="#f7e0b5"/><rect x="768" y="606" fill="#f5d8a5"/><rect x="775" y="606" fill="#f3cf97"/><rect x="782" y="606" fill="#f1c58c"/><rect x="789" y="606" fill="#efba83"/><rect x="796" y="606" fill="#edaf7b"/><rect x="803" y="606" fill="#eca574"/><rect x="810" y="606" fill="#ea9c6e"/><rect x="817" y="606" fill="#e99469"/><rect x="824" y="606" fill="#e88c64"/><rect x="831" y="606" fill="#e78660"/><rect x="838" y="606" fill="#e6805c"/><rect x="845" y="606" fill="#e57a59"/><rect x="852" y="606" fill="#e47556"/><rect x="859" y="606" fill="#e37054"/><rect x="866" y="606" fill="#e26a54"/><rect x="873" y="606" fill="#e26455"/><rect x="880" y="606" fill="#e15f56"/><rect x="887" y="606" fill="#e15a57"/><rect x="894" y="606" fill="#e05658"/><rect x="614" y="613" fill="#93c7c6"/><rect x="621" y="613" fill="#93c7c6"/><rect x="628" y="613" fill="#93c7c6"/><rect x="635" y="613" fill="#93c7c6"/><rect x="642" y="613" fill="#93c7c6"/><rect x="649" y="613" fill="#92c7c5"/><rect x="656" y="613" fill="#92c7c5"/><rect x="663" y="613" fill="#92c7c5"/><rect x="670" y="613" fill="#92c7c5"/><rect x="677" y="613" fill="#91c7c5"/><rect x="684" y="613" fill="#91c7c5"/><rect x="691" y="613" fill="#91c7c5"/><rect x="698" y="613" fill="#93c8c5"/><rect x="705" y="613" fill="#9dcdca"/><rect x="712" y="613" fill="#b1d8d5"/><rect x="719" y="613" fill="#c6e4e0"/><rect x="726" y="613" fill="#dceeea"/><rect x="733" y="613" fill="#eef7f1"/><rect x="740" y="613" fill="#f9f8f0"/><rect x="747" y="613" fill="#fbf1e2"/><rect x="754" y="613" fill="#f9e4ce"/><rect x="761" y="613" fill="#f6d7bc"/><rect x="768" y="613" fill="#f3c9ad"/><rect x="775" y="613" fill="#f1bca1"/><rect x="782" y="613" fill="#efaf96"/><rect x="789" y="613" fill="#eda48d"/><rect x="796" y="613" fill="#eb9a85"/><rect x="803" y="613" fill="#ea917d"/><rect x="810" y="613" fill="#e88977"/><rect x="817" y="613" fill="#e78272"/><rect x="824" y="613" fill="#e67c6d"/><rect x="831" y="613" fill="#e57668"/><rect x="838" y="613" fill="#e47164"/><rect x="845" y="613" fill="#e36c60"/><rect x="852" y="613" fill="#e3685d"/><rect x="859" y="613" fill="#e2645a"/><rect x="866" y="613" fill="#e16058"/><rect x="873" y="613" fill="#e15b57"/><rect x="880" y="613" fill="#e05758"/><rect x="887" y="613" fill="#e05459"/><rect x="894" y="613" fill="#e05259"/><rect x="901" y="613" fill="#e05259"/><rect x="614" y="620" fill="#93c6cb"/><rect x="621" y="620" fill="#93c6cb"/><rect x="628" y="620" fill="#93c6cb"/><rect x="635" y="620" fill="#92c6cb"/><rect x="642" y="620" fill="#92c6cb"/><rect x="649" y="620" fill="#92c6cb"/><rect x="656" y="620" fill="#91c6cb"/><rect x="663" y="620" fill="#91c6cb"/><rect x="670" y="620" fill="#91c6cb"/><rect x="677" y="620" fill="#91c6cb"/><rect x="684" y="620" fill="#90c6cb"/><rect x="691" y="620" fill="#90c6cb"/><rect x="698" y="620" fill="#94c8cd"/><rect x="705" y="620" fill="#a2d0d4"/><rect x="712" y="620" fill="#b7dcdf"/><rect x="719" y="620" fill="#cde7ea"/><rect x="726" y="620" fill="#e2f1f3"/><rect x="733" y="620" fill="#f3f8f8"/><rect x="740" y="620" fill="#fbf4f5"/><rect x="747" y="620" fill="#f9e6e6"/><rect x="754" y="620" fill="#f6d4d5"/><rect x="761" y="620" fill="#f3c3c4"/><rect x="768" y="620" fill="#f0b4b6"/><rect x="775" y="620" fill="#eea7a9"/><rect x="782" y="620" fill="#ec9c9e"/><rect x="789" y="620" fill="#ea9295"/><rect x="796" y="620" fill="#e9898d"/><rect x="803" y="620" fill="#e78185"/><rect x="810" y="620" fill="#e67a7f"/><rect x="817" y="620" fill="#e57479"/><rect x="824" y="620" fill="#e46e74"/><rect x="831" y="620" fill="#e3696f"/><rect x="838" y="620" fill="#e2656a"/><rect x="845" y="620" fill="#e26067"/><rect x="852" y="620" fill="#e15d63"/><rect x="859" y="620" fill="#e05960"/><rect x="866" y="620" fill="#e0565c"/><rect x="873" y="620" fill="#df545a"/><rect x="880" y="620" fill="#e05359"/><rect x="887" y="620" fill="#e05259"/><rect x="894" y="620" fill="#e05259"/><rect x="901" y="620" fill="#e05259"/><rect x="908" y="620" fill="#e05259"/><rect x="614" y="627" fill="#88c6d1"/><rect x="621" y="627" fill="#88c6d1"/><rect x="628" y="627" fill="#87c6d2"/><rect x="635" y="627" fill="#87c6d2"/><rect x="642" y="627" fill="#86c6d2"/><rect x="649" y="627" fill="#86c6d2"/><rect x="656" y="627" fill="#85c6d3"/><rect x="663" y="627" fill="#84c6d3"/><rect x="670" y="627" fill="#84c6d3"/><rect x="677" y="627" fill="#83c6d3"/><rect x="684" y="627" fill="#82c6d4"/><rect x="691" y="627" fill="#82c6d4"/><rect x="698" y="627" fill="#88c9d7"/><rect x="705" y="627" fill="#99d2df"/><rect x="712" y="627" fill="#b0dde9"/><rect x="719" y="627" fill="#c8e7f0"/><rect x="726" y="627" fill="#dfeef5"/><rect x="733" y="627" fill="#f0f2f7"/><rect x="740" y="627" fill="#f7eaf1"/><rect x="747" y="627" fill="#f5d8e5"/><rect x="754" y="627" fill="#f2c5d7"/><rect x="761" y="627" fill="#efb4c9"/><rect x="768" y="627" fill="#eda6bb"/><rect x="775" y="627" fill="#eb9aaf"/><rect x="782" y="627" fill="#e98fa4"/><rect x="789" y="627" fill="#e7869a"/><rect x="796" y="627" fill="#e67e92"/><rect x="803" y="627" fill="#e5778a"/><rect x="810" y="627" fill="#e47184"/><rect x="817" y="627" fill="#e36b7e"/><rect x="824" y="627" fill="#e26678"/><rect x="831" y="627" fill="#e16173"/><rect x="838" y="627" fill="#e05d6f"/><rect x="845" y="627" fill="#e0596b"/><rect x="852" y="627" fill="#df5667"/><rect x="859" y="627" fill="#df5464"/><rect x="866" y="627" fill="#df5260"/><rect x="873" y="627" fill="#df525d"/><rect x="880" y="627" fill="#df525b"/><rect x="887" y="627" fill="#e05259"/><rect x="894" y="627" fill="#e05259"/><rect x="901" y="627" fill="#e05259"/><rect x="908" y="627" fill="#e05259"/><rect x="915" y="627" fill="#e05259"/><rect x="614" y="634" fill="#7ac6d7"/><rect x="621" y="634" fill="#7ac6d8"/><rect x="628" y="634" fill="#79c6d8"/><rect x="635" y="634" fill="#78c6d8"/><rect x="642" y="634" fill="#77c6d9"/><rect x="649" y="634" fill="#76c6d9"/><rect x="656" y="634" fill="#75c6da"/><rect x="663" y="634" fill="#74c6da"/><rect x="670" y="634" fill="#73c6da"/><rect x="677" y="634" fill="#72c6db"/><rect x="684" y="634" fill="#71c5db"/><rect x="691" y="634" fill="#72c6dc"/><rect x="698" y="634" fill="#7bcadf"/><rect x="705" y="634" fill="#90d2e7"/><rect x="712" y="634" fill="#a9dbed"/><rect x="719" y="634" fill="#c3e2f0"/><rect x="726" y="634" fill="#dce5f1"/><rect x="733" y="634" fill="#ebe6f0"/><rect x="740" y="634" fill="#f0dde9"/><rect x="747" y="634" fill="#efcbde"/><rect x="754" y="634" fill="#edb9d2"/><rect x="761" y="634" fill="#eba8c8"/><rect x="768" y="634" fill="#e99abe"/><rect x="775" y="634" fill="#e78fb3"/><rect x="782" y="634" fill="#e685a9"/><rect x="789" y="634" fill="#e47da0"/><rect x="796" y="634" fill="#e37597"/><rect x="803" y="634" fill="#e26f8f"/><rect x="810" y="634" fill="#e16988"/><rect x="817" y="634" fill="#e06482"/><rect x="824" y="634" fill="#e05f7d"/><rect x="831" y="634" fill="#df5b78"/><rect x="838" y="634" fill="#de5773"/><rect x="845" y="634" fill="#de556f"/><rect x="852" y="634" fill="#de536b"/><rect x="859" y="634" fill="#de5267"/><rect x="866" y="634" fill="#df5264"/><rect x="873" y="634" fill="#df5261"/><rect x="880" y="634" fill="#df525e"/><rect x="887" y="634" fill="#df525b"/><rect x="894" y="634" fill="#df525a"/><rect x="901" y="634" fill="#e05259"/><rect x="908" y="634" fill="#e05259"/><rect x="915" y="634" fill="#e05259"/><rect x="922" y="634" fill="#e05259"/><rect x="614" y="641" fill="#6ec5dc"/><rect x="621" y="641" fill="#6ec5dd"/><rect x="628" y="641" fill="#6dc5dd"/><rect x="635" y="641" fill="#6cc5dd"/><rect x="642" y="641" fill="#6bc4dd"/><rect x="649" y="641" fill="#6ac4de"/><rect x="656" y="641" fill="#6ac4de"/><rect x="663" y="641" fill="#69c3de"/><rect x="670" y="641" fill="#68c3df"/><rect x="677" y="641" fill="#67c3df"/><rect x="684" y="641" fill="#66c2df"/><rect x="691" y="641" fill="#68c3e0"/><rect x="698" y="641" fill="#75c7e4"/><rect x="705" y="641" fill="#8ecfe8"/><rect x="712" y="641" fill="#a9d4ea"/><rect x="719" y="641" fill="#c4d7e9"/><rect x="726" y="641" fill="#d8d8e8"/><rect x="733" y="641" fill="#e3d7e7"/><rect x="740" y="641" fill="#e8cee0"/><rect x="747" y="641" fill="#e8bdd5"/><rect x="754" y="641" fill="#e7adca"/><rect x="761" y="641" fill="#e69ec1"/><rect x="768" y="641" fill="#e491ba"/><rect x="775" y="641" fill="#e385b3"/><rect x="782" y="641" fill="#e27cab"/><rect x="789" y="641" fill="#e174a4"/><rect x="796" y="641" fill="#e06d9c"/><rect x="803" y="641" fill="#df6794"/><rect x="810" y="641" fill="#df618d"/><rect x="817" y="641" fill="#de5d87"/><rect x="824" y="641" fill="#dd5981"/><rect x="831" y="641" fill="#dd567c"/><rect x="838" y="641" fill="#dd5477"/><rect x="845" y="641" fill="#dd5373"/><rect x="852" y="641" fill="#de536f"/><rect x="859" y="641" fill="#de536b"/><rect x="866" y="641" fill="#de5267"/><rect x="873" y="641" fill="#df5264"/><rect x="880" y="641" fill="#df5261"/><rect x="887" y="641" fill="#df525f"/><rect x="894" y="641" fill="#df525c"/><rect x="901" y="641" fill="#df525a"/><rect x="908" y="641" fill="#e05259"/><rect x="915" y="641" fill="#e05259"/><rect x="922" y="641" fill="#e05259"/><rect x="621" y="648" fill="#66c2df"/><rect x="628" y="648" fill="#65c2df"/><rect x="635" y="648" fill="#64c1e0"/><rect x="642" y="648" fill="#64c1e0"/><rect x="649" y="648" fill="#63c1e0"/><rect x="656" y="648" fill="#62c0e0"/><rect x="663" y="648" fill="#61c0e0"/><rect x="670" y="648" fill="#60bfe1"/><rect x="677" y="648" fill="#5fbfe1"/><rect x="684" y="648" fill="#5ebee1"/><rect x="691" y="648" fill="#63bfe2"/><rect x="698" y="648" fill="#75c3e4"/><rect x="705" y="648" fill="#90c7e4"/><rect x="712" y="648" fill="#accae2"/><rect x="719" y="648" fill="#c3c9e1"/><rect x="726" y="648" fill="#d2cae0"/><rect x="733" y="648" fill="#dbc8de"/><rect x="740" y="648" fill="#dfbed7"/><rect x="747" y="648" fill="#e0afcc"/><rect x="754" y="648" fill="#e1a1c2"/><rect x="761" y="648" fill="#e194ba"/><rect x="768" y="648" fill="#e088b3"/><rect x="775" y="648" fill="#df7dad"/><rect x="782" y="648" fill="#de74a8"/><rect x="789" y="648" fill="#de6ca3"/><rect x="796" y="648" fill="#dd659e"/><rect x="803" y="648" fill="#dd5f98"/><rect x="810" y="648" fill="#dc5b92"/><rect x="817" y="648" fill="#dc578c"/><rect x="824" y="648" fill="#dc5586"/><rect x="831" y="648" fill="#dc5480"/><rect x="838" y="648" fill="#dd547b"/><rect x="845" y="648" fill="#dd5376"/><rect x="852" y="648" fill="#dd5372"/><rect x="859" y="648" fill="#de536e"/><rect x="866" y="648" fill="#de536b"/><rect x="873" y="648" fill="#de5268"/><rect x="880" y="648" fill="#df5265"/><rect x="887" y="648" fill="#df5262"/><rect x="894" y="648" fill="#df525f"/><rect x="901" y="648" fill="#df525d"/><rect x="908" y="648" fill="#df525a"/><rect x="915" y="648" fill="#e05259"/><rect x="922" y="648" fill="#e05259"/><rect x="621" y="655" fill="#60bfe1"/><rect x="628" y="655" fill="#5fbfe1"/><rect x="635" y="655" fill="#5fbee1"/><rect x="642" y="655" fill="#5ebee1"/><rect x="649" y="655" fill="#5dbde2"/><rect x="656" y="655" fill="#5cbde2"/><rect x="663" y="655" fill="#5bbce2"/><rect x="670" y="655" fill="#5abbe2"/><rect x="677" y="655" fill="#5abae2"/><rect x="684" y="655" fill="#5ab9e1"/><rect x="691" y="655" fill="#63b9e0"/><rect x="698" y="655" fill="#7abbde"/><rect x="705" y="655" fill="#95bddb"/><rect x="712" y="655" fill="#adbcda"/><rect x="719" y="655" fill="#bfbcd8"/><rect x="726" y="655" fill="#cbbcd8"/><rect x="733" y="655" fill="#d2b8d5"/><rect x="740" y="655" fill="#d7afce"/><rect x="747" y="655" fill="#d9a1c4"/><rect x="754" y="655" fill="#da94bb"/><rect x="761" y="655" fill="#db89b3"/><rect x="768" y="655" fill="#db7fad"/><rect x="775" y="655" fill="#db75a7"/><rect x="782" y="655" fill="#da6ca3"/><rect x="789" y="655" fill="#da659f"/><rect x="796" y="655" fill="#da5f9b"/><rect x="803" y="655" fill="#da5a98"/><rect x="810" y="655" fill="#db5795"/><rect x="817" y="655" fill="#db5590"/><rect x="824" y="655" fill="#dc558a"/><rect x="831" y="655" fill="#dc5484"/><rect x="838" y="655" fill="#dc547f"/><rect x="845" y="655" fill="#dd547a"/><rect x="852" y="655" fill="#dd5376"/><rect x="859" y="655" fill="#dd5372"/><rect x="866" y="655" fill="#de536e"/><rect x="873" y="655" fill="#de536b"/><rect x="880" y="655" fill="#de5268"/><rect x="887" y="655" fill="#df5265"/><rect x="894" y="655" fill="#df5262"/><rect x="901" y="655" fill="#df5260"/><rect x="908" y="655" fill="#df525d"/><rect x="915" y="655" fill="#df525b"/><rect x="922" y="655" fill="#df5259"/><rect x="621" y="662" fill="#5bbce2"/><rect x="628" y="662" fill="#5abbe2"/><rect x="635" y="662" fill="#5abbe2"/><rect x="642" y="662" fill="#59bae2"/><rect x="649" y="662" fill="#58b9e1"/><rect x="656" y="662" fill="#58b8e1"/><rect x="663" y="662" fill="#58b6e0"/><rect x="670" y="662" fill="#57b4de"/><rect x="677" y="662" fill="#57b3dd"/><rect x="684" y="662" fill="#59b0db"/><rect x="691" y="662" fill="#67b0d8"/><rect x="698" y="662" fill="#7fb1d5"/><rect x="705" y="662" fill="#98b1d3"/><rect x="712" y="662" fill="#acafd2"/><rect x="719" y="662" fill="#bbafd0"/><rect x="726" y="662" fill="#c4afd0"/><rect x="733" y="662" fill="#c9a9cc"/><rect x="740" y="662" fill="#cfa0c5"/><rect x="747" y="662" fill="#d194bc"/><rect x="754" y="662" fill="#d388b3"/><rect x="761" y="662" fill="#d57eac"/><rect x="768" y="662" fill="#d676a7"/><rect x="775" y="662" fill="#d76da2"/><rect x="782" y="662" fill="#d7659e"/><rect x="789" y="662" fill="#d75f9a"/><rect x="796" y="662" fill="#d85b98"/><rect x="803" y="662" fill="#d95897"/><rect x="810" y="662" fill="#da5797"/><rect x="817" y="662" fill="#db5593"/><rect x="824" y="662" fill="#db558d"/><rect x="831" y="662" fill="#dc5588"/><rect x="838" y="662" fill="#dc5482"/><rect x="845" y="662" fill="#dd547e"/><rect x="852" y="662" fill="#dd5479"/><rect x="859" y="662" fill="#dd5375"/><rect x="866" y="662" fill="#dd5371"/><rect x="873" y="662" fill="#de536e"/><rect x="880" y="662" fill="#de536b"/><rect x="887" y="662" fill="#de5268"/><rect x="894" y="662" fill="#de5265"/><rect x="901" y="662" fill="#df5262"/><rect x="908" y="662" fill="#df5260"/><rect x="621" y="669" fill="#58b8e1"/><rect x="628" y="669" fill="#57b6e0"/><rect x="635" y="669" fill="#57b5df"/><rect x="642" y="669" fill="#57b3de"/><rect x="649" y="669" fill="#57b1dc"/><rect x="656" y="669" fill="#57afda"/><rect x="663" y="669" fill="#57add9"/><rect x="670" y="669" fill="#57abd7"/><rect x="677" y="669" fill="#57a9d5"/><rect x="684" y="669" fill="#5ca7d2"/><rect x="691" y="669" fill="#6da7cf"/><rect x="698" y="669" fill="#84a6cd"/><rect x="705" y="669" fill="#99a4cc"/><rect x="712" y="669" fill="#a9a3ca"/><rect x="719" y="669" fill="#b4a3ca"/><rect x="726" y="669" fill="#bca1c8"/><rect x="733" y="669" fill="#c19bc3"/><rect x="740" y="669" fill="#c792bc"/><rect x="747" y="669" fill="#ca87b4"/><rect x="754" y="669" fill="#cd7cac"/><rect x="761" y="669" fill="#cf74a6"/><rect x="768" y="669" fill="#d16da1"/><rect x="775" y="669" fill="#d3679d"/><rect x="782" y="669" fill="#d4619a"/><rect x="789" y="669" fill="#d55e99"/><rect x="796" y="669" fill="#d75b98"/><rect x="803" y="669" fill="#d85998"/><rect x="810" y="669" fill="#d95797"/><rect x="817" y="669" fill="#da5696"/><rect x="824" y="669" fill="#db5591"/><rect x="831" y="669" fill="#db558b"/><rect x="838" y="669" fill="#dc5486"/><rect x="845" y="669" fill="#dc5481"/><rect x="852" y="669" fill="#dd547c"/><rect x="859" y="669" fill="#dd5478"/><rect x="866" y="669" fill="#dd5375"/><rect x="873" y="669" fill="#de5371"/><rect x="880" y="669" fill="#de536e"/><rect x="887" y="669" fill="#de536b"/><rect x="628" y="676" fill="#57afda"/><rect x="635" y="676" fill="#57add8"/><rect x="642" y="676" fill="#57abd6"/><rect x="649" y="676" fill="#57a9d5"/><rect x="656" y="676" fill="#57a7d3"/><rect x="663" y="676" fill="#57a4d1"/><rect x="670" y="676" fill="#57a2ce"/><rect x="677" y="676" fill="#589fcc"/><rect x="684" y="676" fill="#5f9dca"/><rect x="691" y="676" fill="#719cc8"/><rect x="698" y="676" fill="#879ac7"/><rect x="705" y="676" fill="#9898c4"/><rect x="712" y="676" fill="#a598c2"/><rect x="719" y="676" fill="#ae98c3"/><rect x="726" y="676" fill="#b494c0"/><rect x="733" y="676" fill="#b98cba"/><rect x="740" y="676" fill="#bf84b4"/><rect x="747" y="676" fill="#c37aac"/><rect x="754" y="676" fill="#c671a5"/><rect x="761" y="676" fill="#ca6ba1"/><rect x="768" y="676" fill="#cd679d"/><rect x="775" y="676" fill="#d0649b"/><rect x="782" y="676" fill="#d3619a"/><rect x="789" y="676" fill="#d55f99"/><rect x="796" y="676" fill="#d65c98"/><rect x="803" y="676" fill="#d85a98"/><rect x="810" y="676" fill="#d95897"/><rect x="817" y="676" fill="#da5797"/><rect x="824" y="676" fill="#db5594"/><rect x="831" y="676" fill="#db558f"/><rect x="838" y="676" fill="#dc5589"/><rect x="845" y="676" fill="#dc5484"/><rect x="852" y="676" fill="#dc5480"/><rect x="859" y="676" fill="#dd547b"/><rect x="866" y="676" fill="#dd5478"/><rect x="873" y="676" fill="#dd5374"/><rect x="628" y="683" fill="#57a7d3"/><rect x="635" y="683" fill="#57a5d1"/><rect x="642" y="683" fill="#57a3cf"/><rect x="649" y="683" fill="#57a1cd"/><rect x="656" y="683" fill="#579ecb"/><rect x="663" y="683" fill="#579cc9"/><rect x="670" y="683" fill="#5799c7"/><rect x="677" y="683" fill="#5896c5"/><rect x="684" y="683" fill="#6294c3"/><rect x="691" y="683" fill="#7591c2"/><rect x="698" y="683" fill="#878fc0"/><rect x="705" y="683" fill="#968dbd"/><rect x="712" y="683" fill="#a18dbc"/><rect x="719" y="683" fill="#a88cbc"/><rect x="726" y="683" fill="#ad86b8"/><rect x="733" y="683" fill="#b27fb2"/><rect x="740" y="683" fill="#b777ac"/><rect x="747" y="683" fill="#bc6fa6"/><rect x="754" y="683" fill="#c26aa1"/><rect x="761" y="683" fill="#c7679e"/><rect x="768" y="683" fill="#cb659c"/><rect x="775" y="683" fill="#cf649b"/><rect x="782" y="683" fill="#d2629a"/><rect x="789" y="683" fill="#d45f99"/><rect x="796" y="683" fill="#d65d99"/><rect x="803" y="683" fill="#d75b98"/><rect x="810" y="683" fill="#d85998"/><rect x="817" y="683" fill="#d95797"/><rect x="824" y="683" fill="#da5696"/><rect x="831" y="683" fill="#db5592"/><rect x="838" y="683" fill="#db558d"/><rect x="845" y="683" fill="#dc5588"/><rect x="852" y="683" fill="#dc5483"/><rect x="859" y="683" fill="#dc547f"/><rect x="628" y="690" fill="#579fcc"/><rect x="635" y="690" fill="#579dca"/><rect x="642" y="690" fill="#579bc8"/><rect x="649" y="690" fill="#5799c6"/><rect x="656" y="690" fill="#5796c4"/><rect x="663" y="690" fill="#5793c2"/><rect x="670" y="690" fill="#5790c0"/><rect x="677" y="690" fill="#598cbe"/><rect x="684" y="690" fill="#6589bd"/><rect x="691" y="690" fill="#7786bc"/><rect x="698" y="690" fill="#8684b8"/><rect x="705" y="690" fill="#9383b6"/><rect x="712" y="690" fill="#9b83b7"/><rect x="719" y="690" fill="#a181b6"/><rect x="726" y="690" fill="#a67ab1"/><rect x="733" y="690" fill="#ab73ab"/><rect x="740" y="690" fill="#b26da6"/><rect x="747" y="690" fill="#b96aa2"/><rect x="754" y="690" fill="#c068a0"/><rect x="761" y="690" fill="#c6669e"/><rect x="768" y="690" fill="#ca659d"/><rect x="775" y="690" fill="#cf649b"/><rect x="782" y="690" fill="#d2639a"/><rect x="789" y="690" fill="#d4609a"/><rect x="796" y="690" fill="#d55e99"/><rect x="803" y="690" fill="#d65c98"/><rect x="810" y="690" fill="#d85a98"/><rect x="817" y="690" fill="#d95897"/><rect x="824" y="690" fill="#da5797"/><rect x="831" y="690" fill="#db5595"/><rect x="838" y="690" fill="#db5590"/><rect x="845" y="690" fill="#db558b"/><rect x="635" y="697" fill="#5796c4"/><rect x="642" y="697" fill="#5793c2"/><rect x="649" y="697" fill="#5790c0"/><rect x="656" y="697" fill="#568dbf"/><rect x="663" y="697" fill="#5689bd"/><rect x="670" y="697" fill="#5685bb"/><rect x="677" y="697" fill="#5a81b9"/><rect x="684" y="697" fill="#687eb8"/><rect x="691" y="697" fill="#787cb5"/><rect x="698" y="697" fill="#857ab1"/><rect x="705" y="697" fill="#8f7ab1"/><rect x="712" y="697" fill="#967ab2"/><rect x="719" y="697" fill="#9c77b0"/><rect x="726" y="697" fill="#a172ac"/><rect x="733" y="697" fill="#a86ea8"/><rect x="740" y="697" fill="#b06ba5"/><rect x="747" y="697" fill="#b869a2"/><rect x="754" y="697" fill="#bf68a0"/><rect x="761" y="697" fill="#c5679e"/><rect x="768" y="697" fill="#ca659d"/><rect x="775" y="697" fill="#ce649c"/><rect x="782" y="697" fill="#d1639b"/><rect x="789" y="697" fill="#d3619a"/><rect x="796" y="697" fill="#d55f99"/><rect x="803" y="697" fill="#d65d99"/><rect x="810" y="697" fill="#d75b98"/><rect x="817" y="697" fill="#d85997"/><rect x="824" y="697" fill="#d95797"/><rect x="635" y="704" fill="#578dbf"/><rect x="642" y="704" fill="#568abd"/><rect x="649" y="704" fill="#5687bb"/><rect x="656" y="704" fill="#5583b9"/><rect x="663" y="704" fill="#557fb8"/><rect x="670" y="704" fill="#557bb6"/><rect x="677" y="704" fill="#5c77b4"/><rect x="684" y="704" fill="#6a75b2"/><rect x="691" y="704" fill="#7772ae"/><rect x="698" y="704" fill="#8271ab"/><rect x="705" y="704" fill="#8b72ac"/><rect x="712" y="704" fill="#9373ae"/><rect x="719" y="704" fill="#9971ad"/><rect x="726" y="704" fill="#a06faa"/><rect x="733" y="704" fill="#a86da8"/><rect x="740" y="704" fill="#b06ba5"/><rect x="747" y="704" fill="#b869a3"/><rect x="754" y="704" fill="#bf68a0"/><rect x="761" y="704" fill="#c4679f"/><rect x="768" y="704" fill="#c9669d"/><rect x="775" y="704" fill="#cd659c"/><rect x="782" y="704" fill="#d0649b"/><rect x="789" y="704" fill="#d3629a"/><rect x="796" y="704" fill="#d45f99"/><rect x="803" y="704" fill="#d55d99"/><rect x="810" y="704" fill="#d75b98"/><rect x="635" y="711" fill="#5584ba"/><rect x="642" y="711" fill="#5581b8"/><rect x="649" y="711" fill="#547db7"/><rect x="656" y="711" fill="#5479b5"/><rect x="663" y="711" fill="#5376b3"/><rect x="670" y="711" fill="#5571b1"/><rect x="677" y="711" fill="#5d6eaf"/><rect x="684" y="711" fill="#6a6cac"/><rect x="691" y="711" fill="#766aa8"/><rect x="698" y="711" fill="#806ba8"/><rect x="705" y="711" fill="#8a6eab"/><rect x="712" y="711" fill="#9371ad"/><rect x="719" y="711" fill="#9971ac"/><rect x="726" y="711" fill="#a06faa"/><rect x="733" y="711" fill="#a86da8"/><rect x="740" y="711" fill="#b06ba5"/><rect x="747" y="711" fill="#b769a3"/><rect x="754" y="711" fill="#be68a1"/><rect x="761" y="711" fill="#c3679f"/><rect x="768" y="711" fill="#c8669d"/><rect x="775" y="711" fill="#cc659c"/><rect x="782" y="711" fill="#d0649b"/><rect x="789" y="711" fill="#d2639a"/><rect x="796" y="711" fill="#d4609a"/><rect x="642" y="718" fill="#5478b4"/><rect x="649" y="718" fill="#5374b2"/><rect x="656" y="718" fill="#5371b0"/><rect x="663" y="718" fill="#526dae"/><rect x="670" y="718" fill="#5569ac"/><rect x="677" y="718" fill="#5e66aa"/><rect x="684" y="718" fill="#6a66a7"/><rect x="691" y="718" fill="#7766a5"/><rect x="698" y="718" fill="#816aa7"/><rect x="705" y="718" fill="#8b6eab"/><rect x="712" y="718" fill="#9371ad"/><rect x="719" y="718" fill="#9a71ac"/><rect x="726" y="718" fill="#a06faa"/><rect x="733" y="718" fill="#a86da8"/><rect x="740" y="718" fill="#af6ba5"/><rect x="747" y="718" fill="#b769a3"/><rect x="754" y="718" fill="#bd68a1"/><rect x="761" y="718" fill="#c3679f"/><rect x="768" y="718" fill="#c7669e"/><rect x="775" y="718" fill="#cb659c"/><rect x="642" y="725" fill="#5370b0"/><rect x="649" y="725" fill="#526cae"/><rect x="656" y="725" fill="#5268ac"/><rect x="663" y="725" fill="#5165aa"/><rect x="670" y="725" fill="#5562a8"/><rect x="677" y="725" fill="#6062a6"/><rect x="684" y="725" fill="#6d64a5"/><rect x="691" y="725" fill="#7966a5"/><rect x="698" y="725" fill="#836aa8"/><rect x="705" y="725" fill="#8c6fab"/><rect x="712" y="725" fill="#9471ad"/><rect x="719" y="725" fill="#9a70ac"/><rect x="726" y="725" fill="#a16faa"/><rect x="733" y="725" fill="#a86da8"/><rect x="740" y="725" fill="#af6ba5"/><rect x="747" y="725" fill="#b66aa3"/><rect x="754" y="725" fill="#bd68a1"/><rect x="761" y="725" fill="#c2679f"/><rect x="649" y="732" fill="#5165aa"/><rect x="656" y="732" fill="#5162a9"/><rect x="663" y="732" fill="#5261a8"/><rect x="670" y="732" fill="#5760a7"/><rect x="677" y="732" fill="#6362a6"/><rect x="684" y="732" fill="#6f64a4"/><rect x="691" y="732" fill="#7b67a5"/><rect x="698" y="732" fill="#846ba8"/><rect x="705" y="732" fill="#8d6fac"/><rect x="712" y="732" fill="#9571ad"/><rect x="719" y="732" fill="#9b70ac"/><rect x="726" y="732" fill="#a16faa"/><rect x="733" y="732" fill="#a86da8"/><rect x="740" y="732" fill="#af6ba5"/><rect x="747" y="732" fill="#b66aa3"/><rect x="649" y="739" fill="#5161a8"/><rect x="656" y="739" fill="#5160a8"/><rect x="663" y="739" fill="#5360a8"/><rect x="670" y="739" fill="#5a61a7"/><rect x="677" y="739" fill="#6663a5"/><rect x="684" y="739" fill="#7264a4"/><rect x="691" y="739" fill="#7d67a5"/><rect x="698" y="739" fill="#856ca9"/><rect x="705" y="739" fill="#8e70ac"/><rect x="712" y="739" fill="#9572ad"/><rect x="719" y="739" fill="#9b70ac"/><rect x="726" y="739" fill="#a16faa"/><rect x="733" y="739" fill="#a76da8"/><rect x="656" y="746" fill="#5160a8"/><rect x="663" y="746" fill="#5460a7"/><rect x="670" y="746" fill="#5d61a6"/><rect x="677" y="746" fill="#6963a5"/><rect x="684" y="746" fill="#7565a4"/><rect x="691" y="746" fill="#7e68a6"/><rect x="698" y="746" fill="#876ca9"/><rect x="705" y="746" fill="#8f70ad"/><rect x="712" y="746" fill="#9672ad"/><rect x="663" y="753" fill="#5560a7"/><rect x="670" y="753" fill="#5e62a6"/><rect x="677" y="753" fill="#6a63a5"/><rect x="684" y="753" fill="#7665a4"/><rect x="691" y="753" fill="#7f68a6"/><rect x="698" y="753" fill="#876daa"/></g></g></svg>
<canvas id="cie" width="330" height="350" style="left:600px;top:410px;width:330px;height:350px"></canvas>
<script>
(function(){
var cv=document.getElementById('cie'),ctx=cv.getContext('2d');
var W=330,H=350,X0=8.600000000000023,SX=422.0,Y0=343.4,SY=397.0;
var CO=[[0,0,0],[227,80,92],[141,191,92],[73,92,159],[117,211,230],[206,99,196],[232,229,95],[255,255,255]];var PW=1.4;
var off=document.createElement('canvas');off.width=W;off.height=H;
var oc=off.getContext('2d');var im=oc.createImageData(W,H);var d=im.data;
function g(v){return v<=0.0031308?12.92*v:1.055*Math.pow(v,1/2.4)-0.055;}
var PAL=[[224,82,89],[237,190,71],[235,176,73],[233,201,85],[230,227,96],[210,222,94],[187,211,89],[163,200,85],[138,192,93],[137,197,141],[135,199,173],[137,200,189],[153,199,203],[108,198,222],[87,186,228],[88,149,195],[81,96,168],[122,102,164],[147,115,175],[162,111,170],[178,107,165],[194,104,160],[210,100,155],[219,86,151]];
for(var j=0;j<H;j++)for(var i=0;i<W;i++){
 var x=(i+0.5-X0)/SX,y=(Y0-(j+0.5))/SY;if(y<0.001)y=0.001;
 var Xc=x/y,Zc=(1-x-y)/y;
 var r=3.2406*Xc-1.5372-0.4986*Zc,gg=-0.9689*Xc+1.8758+0.0415*Zc,b=0.0557*Xc-0.2040+1.0570*Zc;
 r=Math.max(r,0);gg=Math.max(gg,0);b=Math.max(b,0);var m=Math.max(r,gg,b)||1;
 r/=m;gg/=m;b/=m;
 var mn=Math.min(r,gg,b),dd=1-mn,hh=0;
 if(dd>1e-6){ if(r>=gg&&r>=b)hh=((gg-b)/dd+6)%6; else if(gg>=b)hh=(b-r)/dd+2; else hh=(r-gg)/dd+4; }
 var f=Math.pow(dd,1.5);var xx=hh*4;var i0=Math.floor(xx)%24,t=xx-Math.floor(xx),i1=(i0+1)%24;
 var k=(j*W+i)*4;
 for(var c=0;c<3;c++){d[k+c]=(1-f)*255+f*((1-t)*PAL[i0][c]+t*PAL[i1][c]);}
 d[k+3]=255;
}
oc.putImageData(im,0,0);
var off2=document.createElement('canvas');off2.width=W;off2.height=H;var o2=off2.getContext('2d');o2.filter='blur(4px)';o2.drawImage(off,0,0);
var P=[82.07,341.41,82.07,341.41,82.06,341.41,82.05,341.41,82.04,341.41,82.03,341.41,82.01,341.42,82.00,341.43,81.98,341.44,81.96,341.45,81.94,341.45,81.93,341.46,81.91,341.46,81.90,341.45,81.88,341.45,81.86,341.45,81.84,341.46,81.81,341.47,81.79,341.48,81.76,341.49,81.73,341.49,81.71,341.50,81.68,341.50,81.66,341.50,81.63,341.50,81.61,341.49,81.58,341.49,81.54,341.49,81.51,341.49,81.47,341.49,81.44,341.49,81.40,341.50,81.36,341.50,81.32,341.50,81.27,341.50,81.23,341.49,81.18,341.48,81.12,341.46,81.07,341.44,81.00,341.41,80.93,341.38,80.85,341.33,80.76,341.28,80.67,341.23,80.57,341.17,80.47,341.10,80.36,341.02,80.25,340.95,80.14,340.86,80.01,340.77,79.88,340.66,79.73,340.54,79.57,340.42,79.40,340.28,79.22,340.14,79.03,339.99,78.84,339.82,78.64,339.65,78.43,339.47,78.21,339.27,77.98,339.07,77.73,338.86,77.47,338.65,77.19,338.42,76.90,338.18,76.58,337.92,76.24,337.64,75.88,337.35,75.50,337.04,75.10,336.72,74.69,336.37,74.25,336.02,73.80,335.65,73.33,335.26,72.84,334.84,72.32,334.39,71.78,333.90,71.21,333.39,70.62,332.85,70.01,332.26,69.37,331.61,68.71,330.93,68.04,330.23,67.33,329.46,66.59,328.59,65.78,327.56,64.92,326.40,64.01,325.15,63.05,323.76,62.04,322.21,60.97,320.45,59.86,318.54,58.69,316.49,57.48,314.24,56.20,311.74,54.85,308.94,53.44,305.87,51.96,302.56,50.43,298.96,48.81,295.03,47.13,290.72,45.34,286.05,43.46,281.05,41.51,275.69,39.55,269.93,37.59,263.72,35.63,257.05,33.65,249.94,31.66,242.43,29.69,234.53,27.76,226.28,25.83,217.58,23.89,208.42,21.98,198.92,20.18,189.26,18.52,179.56,16.97,169.72,15.51,159.65,14.18,149.50,13.01,139.45,12.06,129.66,11.30,120.04,10.71,110.50,10.31,101.15,10.15,92.09,10.25,83.44,10.60,75.12,11.20,67.05,12.03,59.36,13.12,52.16,14.47,45.57,16.10,39.56,18.02,34.03,20.18,29.07,22.52,24.71,25.02,21.04,27.69,18.10,30.58,15.87,33.63,14.24,36.78,13.11,39.95,12.38,43.20,12.16,46.54,12.51,49.95,13.27,53.38,14.29,56.79,15.40,60.21,16.66,63.66,18.18,67.10,19.88,70.52,21.66,73.88,23.46,77.18,25.27,80.43,27.15,83.65,29.08,86.84,31.07,90.00,33.10,93.15,35.18,96.25,37.30,99.34,39.47,102.42,41.69,105.49,43.94,108.56,46.24,111.63,48.59,114.68,50.98,117.73,53.40,120.77,55.85,123.80,58.33,126.82,60.85,129.84,63.40,132.86,65.97,135.88,68.56,138.89,71.17,141.90,73.80,144.91,76.46,147.93,79.13,150.94,81.82,153.96,84.52,156.98,87.24,160.01,89.98,163.03,92.72,166.05,95.47,169.06,98.23,172.07,101.00,175.07,103.78,178.07,106.55,181.07,109.33,184.07,112.10,187.07,114.88,190.06,117.65,193.04,120.42,196.01,123.18,198.96,125.94,201.91,128.69,204.84,131.44,207.76,134.17,210.65,136.88,213.53,139.58,216.40,142.27,219.25,144.94,222.08,147.59,224.88,150.22,227.65,152.82,230.41,155.41,233.14,157.97,235.84,160.51,238.51,163.00,241.14,165.47,243.75,167.90,246.32,170.31,248.85,172.67,251.33,174.99,253.77,177.28,256.17,179.53,258.51,181.74,260.80,183.90,263.02,185.99,265.17,188.01,267.26,189.96,269.29,191.86,271.26,193.71,273.19,195.52,275.09,197.29,276.93,199.02,278.73,200.70,280.47,202.33,282.14,203.89,283.75,205.39,285.29,206.82,286.77,208.20,288.20,209.52,289.57,210.80,290.88,212.03,292.14,213.22,293.34,214.35,294.50,215.44,295.60,216.48,296.66,217.47,297.66,218.42,298.62,219.32,299.53,220.18,300.41,221.00,301.26,221.79,302.06,222.54,302.82,223.24,303.55,223.92,304.25,224.58,304.93,225.21,305.56,225.81,306.17,226.38,306.76,226.94,307.33,227.48,307.89,228.00,308.42,228.50,308.94,228.98,309.43,229.45,309.91,229.90,310.37,230.33,310.81,230.74,311.23,231.14,311.63,231.52,312.02,231.88,312.39,232.23,312.74,232.55,313.08,232.86,313.40,233.15,313.71,233.43,313.99,233.70,314.26,233.95,314.51,234.18,314.74,234.41,314.97,234.62,315.19,234.83,315.39,235.02,315.59,235.20,315.77,235.37,315.94,235.54,316.11,235.69,316.26,235.83,316.40,235.97,316.54,236.09,316.66,236.21,316.77,236.31,316.87,236.41,316.96,236.49,317.04,236.57,317.12,236.65,317.21,236.72,317.29,236.80,317.36,236.87,317.43,236.94,317.50,237.00,317.57,237.06,317.63,237.12,317.69,237.17,317.74,237.23,317.80,237.28,317.86,237.34,317.92,237.39,317.98,237.45,318.04,237.51,318.09,237.56,318.15,237.61,318.20,237.66,318.25,237.71,318.30,237.76,318.35,237.80,318.39,237.84,318.43,237.87,318.46,237.90,318.49,237.93,318.52,237.96,318.54,237.98,318.56,238.00,318.57,238.01,318.59,238.02,318.60,238.04,318.61,238.05,318.62,238.06,318.63,238.06,318.64,238.07,318.64,238.08];
ctx.beginPath();ctx.moveTo(P[0],P[1]);for(var t=2;t<P.length;t+=2)ctx.lineTo(P[t],P[t+1]);ctx.closePath();
ctx.fillStyle=ctx.createPattern(off2,'no-repeat');ctx.fill();
})();
</script>
<svg width="1080" height="813" viewBox="0 0 1080 813" font-family="Liberation Sans, sans-serif">
<defs>
<linearGradient id="itoTop" x1="541" y1="0" x2="1016" y2="0" gradientUnits="userSpaceOnUse"><stop offset="0" stop-color="#d8d9dd"/><stop offset="1" stop-color="#a6a8b3"/></linearGradient>
<linearGradient id="itoPur" x1="566" y1="0" x2="991" y2="0" gradientUnits="userSpaceOnUse"><stop offset="0" stop-color="#cfc4dc"/><stop offset="0.55" stop-color="#a58ac0"/><stop offset="1" stop-color="#9877b4"/></linearGradient>
<linearGradient id="pvkL" x1="610" y1="0" x2="796" y2="0" gradientUnits="userSpaceOnUse"><stop offset="0" stop-color="#d3cade"/><stop offset="1" stop-color="#c5b7d2"/></linearGradient>
<linearGradient id="grnL" x1="610" y1="0" x2="796" y2="0" gradientUnits="userSpaceOnUse"><stop offset="0" stop-color="#5ab444"/><stop offset="1" stop-color="#65b64b"/></linearGradient>
<linearGradient id="dpL" x1="610" y1="0" x2="796" y2="0" gradientUnits="userSpaceOnUse"><stop offset="0" stop-color="#b4b4b6"/><stop offset="1" stop-color="#a4a8a8"/></linearGradient>
<linearGradient id="tmL" x1="610" y1="0" x2="796" y2="0" gradientUnits="userSpaceOnUse"><stop offset="0" stop-color="#ddd1c5"/><stop offset="1" stop-color="#e5dcd3"/></linearGradient>
<linearGradient id="tmR" x1="796" y1="0" x2="937" y2="0" gradientUnits="userSpaceOnUse"><stop offset="0" stop-color="#c6af9b"/><stop offset="1" stop-color="#bba18c"/></linearGradient>
<linearGradient id="lifL" x1="668" y1="0" x2="787" y2="0" gradientUnits="userSpaceOnUse"><stop offset="0" stop-color="#797979"/><stop offset="1" stop-color="#9a9a9a"/></linearGradient>
</defs>
<polygon points="541.0,281.7 804.0,347.8 1016.0,265.0 753.0,198.9" fill="url(#itoTop)"/>
<polygon points="541.0,281.7 804.0,347.8 804.0,370.6 541.0,299.0" fill="#e2ecf6"/>
<polygon points="804.0,347.8 1016.0,265.0 1016.0,279.8 804.0,370.6" fill="#c3d9ee"/>
<polygon points="565.6,282.8 803.3,342.2 991.5,266.9 753.8,207.5" fill="url(#itoPur)"/>
<polygon points="610.4,231.5 795.6,270.4 937.0,226.5 751.8,187.6" fill="#565d6b" stroke="#565d6b" stroke-width="0.8"/><polygon points="610.4,231.5 795.6,270.4 795.6,322.2 610.4,279.0" fill="url(#pvkL)"/><polygon points="795.6,270.4 937.0,226.5 937.0,267.6 795.6,322.2" fill="#a7a2b0" stroke="#a7a2b0" stroke-width="0.5"/>
<polygon points="610.0,153.5 796.0,178.3 937.0,150.9 751.0,126.1" fill="#055f2a" stroke="#055f2a" stroke-width="0.8"/><polygon points="610.0,153.5 796.0,178.3 796.0,257.8 610.0,223.0" fill="url(#grnL)"/><polygon points="796.0,178.3 937.0,150.9 937.0,216.4 796.0,257.8" fill="#0a923f" stroke="#0a923f" stroke-width="0.5"/>
<polygon points="610.0,123.2 796.0,138.0 937.0,122.3 751.0,107.5" fill="#515151" stroke="#515151" stroke-width="0.8"/><polygon points="610.0,123.2 796.0,138.0 796.0,167.0 610.0,144.9" fill="url(#dpL)"/><polygon points="796.0,138.0 937.0,122.3 937.0,142.6 796.0,167.0" fill="#676868" stroke="#676868" stroke-width="0.5"/>
<polygon points="610.0,48.0 796.0,48.0 796.0,124.6 610.0,114.0" fill="url(#tmL)"/>
<polygon points="796.0,48.0 937.0,48.6 937.0,113.0 796.0,124.6" fill="url(#tmR)"/>
<polygon points="610.0,114.0 762.0,113.3 796.0,114.5 796.0,124.6" fill="#b39a86" fill-opacity="0.5"/>
<polygon points="796.0,114.5 937.0,113.0 796.0,124.6" fill="#9c826e" fill-opacity="0.3"/>
<polygon points="668.6,19.6 786.9,15.0 786.9,39.7 668.6,40.2" fill="url(#lifL)"/>
<polygon points="786.9,15.0 899.6,21.2 899.6,39.7 786.9,39.7" fill="#4d4d4d"/>
<polyline points="668.6,39.6 786.9,39.2 899.6,39.4" fill="none" stroke="#2e2e2e" stroke-width="1.2"/>
<g fill="#111" font-family="Liberation Sans, sans-serif">
<text x="728" y="34" font-size="19" text-anchor="middle" transform="rotate(0 728 34)">LiF/Al</text>
<text x="706.5" y="91.5" font-size="19" text-anchor="middle" transform="rotate(0 706.5 91.5)">TmPyPB</text>
<text x="870.5" y="91" font-size="19" text-anchor="middle" transform="rotate(0 870.5 91)">40 nm</text>
<text x="695.5" y="151" font-size="19" text-anchor="middle" transform="rotate(5 695.5 151)">DPEPO</text>
<text x="871" y="148.5" font-size="19" text-anchor="middle" transform="rotate(-8 871 148.5)">10 nm</text>
<text x="698" y="211.5" font-size="19" text-anchor="middle" transform="rotate(7.5 698 211.5)">NP@Ligand</text>
<text x="870" y="204" font-size="19" text-anchor="middle" transform="rotate(-9 870 204)">25 nm</text>
<text x="705.5" y="287" font-size="19" text-anchor="middle" transform="rotate(8 705.5 287)">PVK</text>
<text x="858.5" y="279" font-size="19" text-anchor="middle" transform="rotate(-15 858.5 279)">20 nm</text>
<text x="677.5" y="331" font-size="19" text-anchor="middle" transform="rotate(14 677.5 331)">ITO/PEDOT:PSS</text>
<text x="904.5" y="325" font-size="19" text-anchor="middle" transform="rotate(-21 904.5 325)">40 nm</text>
</g>
<g stroke="#9d98c4" stroke-width="1.6" stroke-dasharray="7 5" fill="none"><line x1="352" y1="44" x2="610" y2="154"/><line x1="349" y1="300" x2="610" y2="223"/></g>
<g fill="none" stroke="#000" stroke-width="2">
<line x1="1002" y1="29.2" x2="1038" y2="29.2"/>
<line x1="985.5" y1="81.4" x2="1038" y2="81.4"/>
<line x1="970" y1="131" x2="1038" y2="131"/>
<line x1="953.6" y1="179" x2="1038" y2="179"/>
<line x1="509" y1="207.8" x2="577" y2="207.8"/>
<path d="M509 257.8 H558 C572 257.8 576 245 576 215"/>
<path d="M509 296 H545 C556 296 557 285 557 266"/>
<path d="M1002 29.2 C990 29.2 986 45 986 74"/>
<path d="M985.5 81.4 C974 81.4 970 97 970 124"/>
<path d="M970 131 C958 131 954 147 954 172"/>
</g>
<g fill="#000">
<path d="M986 79 L982 70 L986 72.5 L990 70 Z"/>
<path d="M970 129 L966 120 L970 122.5 L974 120 Z"/>
<path d="M954 177 L950 168 L954 170.5 L958 168 Z"/>
<path d="M576 209 L572 218 L576 215.5 L580 218 Z"/>
<path d="M557 259.5 L553 268.5 L557 266.0 L561 268.5 Z"/>
</g>
<g fill="#111" font-family="Liberation Sans, sans-serif" font-size="19">
<text x="1038" y="17.5" text-anchor="end">-3.7</text>
<text x="1038" y="68.5" text-anchor="end">-3.0</text>
<text x="1038" y="118.5" text-anchor="end">-2.5</text>
<text x="1038" y="165.5" text-anchor="end">-2.5</text>
<text x="509" y="231">-6.0</text>
<text x="509" y="280.8">-5.8</text>
<text x="509" y="319.2">-5.2</text>
<text x="0" y="0" text-anchor="middle" transform="translate(1070 107.6) rotate(-90)">LUMO (eV)</text>
<text x="0" y="0" text-anchor="middle" transform="translate(491.5 219.3) rotate(-90)">HOMO (eV)</text>
</g>
<defs><radialGradient id="negG" cx="0.45" cy="0.4" r="0.6"><stop offset="0" stop-color="#fbe0e0"/><stop offset="1" stop-color="#e88a8e"/></radialGradient>
<radialGradient id="posG" cx="0.45" cy="0.4" r="0.6"><stop offset="0" stop-color="#e3eef8"/><stop offset="1" stop-color="#8fb1d4"/></radialGradient></defs>
<circle cx="1064" cy="29" r="15" fill="url(#negG)"/><rect x="1054" y="27.6" width="20" height="3" fill="#000"/>
<circle cx="483" cy="298.4" r="15" fill="url(#posG)"/><rect x="472.9" y="297" width="21" height="2.8" fill="#000"/><rect x="482" y="288.1" width="2.8" height="20.6" fill="#000"/>
<defs>
<radialGradient id="ringG" cx="0.5" cy="0.5" r="0.56"><stop offset="0" stop-color="#fffdfa"/><stop offset="0.45" stop-color="#feeedf"/><stop offset="0.78" stop-color="#f7cca4"/><stop offset="1" stop-color="#eaa468"/></radialGradient>
<radialGradient id="oG" cx="0.5" cy="0.5" r="0.5"><stop offset="0" stop-color="#fff8f2"/><stop offset="0.45" stop-color="#fbd8c4"/><stop offset="0.72" stop-color="#d8704a"/><stop offset="1" stop-color="#9a3418"/></radialGradient>
<radialGradient id="pG" cx="0.45" cy="0.4" r="0.6"><stop offset="0" stop-color="#ffd8b8"/><stop offset="0.6" stop-color="#ea8c52"/><stop offset="1" stop-color="#c05a28"/></radialGradient>
<radialGradient id="fgG" cx="0.42" cy="0.35" r="0.65"><stop offset="0" stop-color="#c9dcf2"/><stop offset="0.45" stop-color="#5a86c4"/><stop offset="1" stop-color="#1f4488"/></radialGradient>
<radialGradient id="sphG" cx="0.45" cy="0.4" r="0.6"><stop offset="0" stop-color="#bcc4c8"/><stop offset="0.8" stop-color="#aab2b6"/><stop offset="1" stop-color="#929b9f"/></radialGradient>
<radialGradient id="ballG" cx="0.4" cy="0.35" r="0.6"><stop offset="0" stop-color="#eef2f4"/><stop offset="0.6" stop-color="#c4ccd0"/><stop offset="1" stop-color="#8a9599"/></radialGradient>
<radialGradient id="grnG" cx="0.4" cy="0.35" r="0.6"><stop offset="0" stop-color="#8ad880"/><stop offset="1" stop-color="#2f9a35"/></radialGradient>
<pattern id="balls" x="0" y="0" width="4.2" height="7.2" patternUnits="userSpaceOnUse">
<rect width="4.2" height="7.2" fill="#86909a"/>
<circle cx="2.1" cy="1.8" r="2.1" fill="url(#ballG)"/>
<circle cx="0" cy="5.4" r="2.1" fill="url(#ballG)"/>
<circle cx="4.2" cy="5.4" r="2.1" fill="url(#ballG)"/>
</pattern>
<pattern id="greens" x="1" y="2" width="10.5" height="9.5" patternUnits="userSpaceOnUse" patternTransform="rotate(-28)">
<circle cx="3" cy="2.5" r="2.2" fill="url(#grnG)"/>
</pattern>
<radialGradient id="sphShade" cx="0.55" cy="0.42" r="0.55"><stop offset="0" stop-color="#000" stop-opacity="0"/><stop offset="0.75" stop-color="#000" stop-opacity="0.05"/><stop offset="1" stop-color="#2a3236" stop-opacity="0.35"/></radialGradient>
<filter id="glowF" x="-30%" y="-30%" width="160%" height="160%"><feGaussianBlur stdDeviation="12"/></filter>
<filter id="glowF2" x="-30%" y="-30%" width="160%" height="160%"><feGaussianBlur stdDeviation="7"/></filter>
<clipPath id="npClip"><rect x="14" y="35.6" width="343" height="274" rx="25"/></clipPath>
</defs>
<g filter="url(#glowF)" fill="#a0cce2" clip-path="url(#npClip)"><circle cx="184.5" cy="170" r="80"/><circle cx="193" cy="53.3" r="17"/><circle cx="179.2" cy="78.3" r="20"/><circle cx="148.3" cy="82.5" r="19.5"/><circle cx="144.2" cy="112.5" r="19.5"/><circle cx="165.8" cy="100" r="14"/><circle cx="287.5" cy="120.8" r="17"/><circle cx="259.2" cy="120.8" r="20"/><circle cx="240.8" cy="95.8" r="19.5"/><circle cx="212.5" cy="108.3" r="19.5"/><circle cx="233.7" cy="120" r="14"/><circle cx="87.7" cy="102.1" r="17"/><circle cx="102.1" cy="126.1" r="20"/><circle cx="89.9" cy="154.7" r="19.5"/><circle cx="114.4" cy="173.2" r="19.5"/><circle cx="113.9" cy="149.2" r="14"/><circle cx="77" cy="217.4" r="17"/><circle cx="105.2" cy="217.4" r="20"/><circle cx="152.6" cy="230" r="19.5"/><circle cx="124.4" cy="241.9" r="19.5"/><circle cx="131.1" cy="218.1" r="14"/><circle cx="171.9" cy="284.8" r="17"/><circle cx="185.9" cy="260.4" r="20"/><circle cx="220.1" cy="225.5" r="19.5"/><circle cx="216.7" cy="255.6" r="19.5"/><circle cx="199.3" cy="238.1" r="14"/><circle cx="277.3" cy="235.9" r="17"/><circle cx="263.1" cy="211.8" r="20"/><circle cx="250.2" cy="164.4" r="19.5"/><circle cx="274.3" cy="183.4" r="19.5"/><circle cx="250.2" cy="189.4" r="14"/></g>
<circle cx="184.5" cy="170" r="66" fill="#d2e6d2" filter="url(#glowF2)" opacity="0.9"/>
<circle cx="184.5" cy="170" r="55.5" fill="url(#balls)"/>
<circle cx="184.5" cy="170" r="54" fill="url(#greens)" opacity="0.95"/>
<circle cx="184.5" cy="170" r="55.5" fill="url(#sphShade)"/>
<path d="M185.4 67.6L193 53.3M185.4 89.0L191.7 100.8M173.0 89.0L165.8 100M156.6 91.7L165.8 100M152.5 103.3L165.8 100M164.9 100.9L174.1 110.1M166.7 99.1L175.9 108.3M192.1 102.0L203.7 97.9M191.3 99.6L202.9 95.5M191.7 100.8L189.2 108.3M271.6 120.8L287.5 120.8M253.0 131.5L246.7 143.3M246.8 120.8L233.7 120M232.8 105.3L233.7 120M220.5 117.8L233.7 120M232.4 119.7L229.5 132.2M235.0 120.3L232.1 132.8M246.4 142.0L238.0 143.7M247.0 144.6L238.6 146.3M246.7 143.3L255.8 150.8M95.9 115.4L87.7 102.1M114.5 126.1L129.2 127M108.3 136.8L113.9 149.2M102.1 152.5L113.9 149.2M114.4 160.8L113.9 149.2M114.3 150.4L126.8 146.7M113.5 148.0L126.0 144.3M130.5 127.2L132.0 114.9M127.9 126.8L129.4 114.5M129.2 127L133.8 132.6M92.8 217.4L77 217.4M111.4 206.7L118.5 194.4M117.6 217.4L131.1 218.1M141.9 223.8L131.1 218.1M128.6 230.2L131.1 218.1M132.4 218.4L135.4 205.9M129.8 217.8L132.8 205.3M119.4 193.4L110.7 185.6M117.6 195.4L108.9 187.6M118.5 194.4L126.7 193.3M179.7 271.1L171.9 284.8M179.7 249.7L173.3 238.1M192.1 249.7L199.3 238.1M209.4 231.7L199.3 238.1M212.5 243.9L199.3 238.1M200.2 237.1L190.5 228.3M198.4 239.1L188.7 230.3M173.0 236.8L161.2 239.8M173.6 239.4L161.8 242.4M173.3 238.1L174.8 229.3M269.3 222.5L277.3 235.9M250.7 211.8L237.3 212.6M256.9 201.1L250.2 189.4M250.2 176.8L250.2 189.4M262.1 185.6L250.2 189.4M249.8 188.1L237.8 191.5M250.6 190.7L238.6 194.1M238.3 211.7L232.3 204.8M236.3 213.5L230.3 206.6M237.3 212.6L234.4 222.9" stroke="#231815" stroke-width="1.2" fill="none"/>
<polygon points="191.6,78.3 185.4,89.0 173.0,89.0 166.8,78.3 173.0,67.6 185.4,67.6" fill="url(#ringG)" stroke="#231815" stroke-width="1.25" stroke-linejoin="round"/><path d="M187.5 78.9L183.9 85.2M174.5 85.2L170.9 78.9M175.6 70.8L182.8 70.8" stroke="#231815" stroke-width="1.25" fill="none"/>
<polygon points="160.4,79.9 156.6,91.7 144.5,94.3 136.2,85.1 140.0,73.3 152.1,70.7" fill="url(#ringG)" stroke="#231815" stroke-width="1.25" stroke-linejoin="round"/><path d="M156.6 81.4L154.3 88.3M145.2 90.2L140.3 84.8M143.2 75.9L150.3 74.4" stroke="#231815" stroke-width="1.25" fill="none"/>
<polygon points="156.3,115.1 148.0,124.3 135.9,121.7 132.1,109.9 140.4,100.7 152.5,103.3" fill="url(#ringG)" stroke="#231815" stroke-width="1.25" stroke-linejoin="round"/><path d="M152.2 114.8L147.3 120.2M138.2 118.3L135.9 111.4M142.2 104.4L149.3 105.9" stroke="#231815" stroke-width="1.25" fill="none"/>
<polygon points="271.6,120.8 265.4,131.5 253.0,131.5 246.8,120.8 253.0,110.1 265.4,110.1" fill="url(#ringG)" stroke="#231815" stroke-width="1.25" stroke-linejoin="round"/><path d="M267.5 121.4L263.9 127.7M254.5 127.7L250.9 121.4M255.6 113.3L262.8 113.3" stroke="#231815" stroke-width="1.25" fill="none"/>
<polygon points="253.0,98.0 245.0,107.5 232.8,105.3 228.6,93.6 236.6,84.1 248.8,86.3" fill="url(#ringG)" stroke="#231815" stroke-width="1.25" stroke-linejoin="round"/><path d="M248.9 97.8L244.2 103.4M235.0 101.8L232.5 94.9M238.5 87.8L245.7 89.0" stroke="#231815" stroke-width="1.25" fill="none"/>
<polygon points="224.7,106.1 220.5,117.8 208.3,120.0 200.3,110.5 204.5,98.8 216.7,96.6" fill="url(#ringG)" stroke="#231815" stroke-width="1.25" stroke-linejoin="round"/><path d="M220.8 107.4L218.3 114.3M209.1 115.9L204.4 110.3M207.6 101.5L214.8 100.3" stroke="#231815" stroke-width="1.25" fill="none"/>
<polygon points="114.5,126.1 108.3,136.8 95.9,136.8 89.7,126.1 95.9,115.4 108.3,115.4" fill="url(#ringG)" stroke="#231815" stroke-width="1.25" stroke-linejoin="round"/><path d="M110.4 126.7L106.8 133.0M97.4 133.0L93.8 126.7M98.5 118.6L105.7 118.6" stroke="#231815" stroke-width="1.25" fill="none"/>
<polygon points="102.1,152.5 97.9,164.2 85.7,166.4 77.7,156.9 81.9,145.2 94.1,143.0" fill="url(#ringG)" stroke="#231815" stroke-width="1.25" stroke-linejoin="round"/><path d="M98.2 153.8L95.7 160.7M86.5 162.3L81.8 156.7M85.0 147.9L92.2 146.7" stroke="#231815" stroke-width="1.25" fill="none"/>
<polygon points="125.1,179.4 114.4,185.6 103.7,179.4 103.7,167.0 114.4,160.8 125.1,167.0" fill="url(#ringG)" stroke="#231815" stroke-width="1.25" stroke-linejoin="round"/><path d="M121.3 177.9L115.0 181.5M106.9 176.8L106.9 169.6M115.0 164.9L121.3 168.5" stroke="#231815" stroke-width="1.25" fill="none"/>
<polygon points="117.6,217.4 111.4,228.1 99.0,228.1 92.8,217.4 99.0,206.7 111.4,206.7" fill="url(#ringG)" stroke="#231815" stroke-width="1.25" stroke-linejoin="round"/><path d="M113.5 218.0L109.9 224.3M100.5 224.3L96.9 218.0M101.6 209.9L108.8 209.9" stroke="#231815" stroke-width="1.25" fill="none"/>
<polygon points="163.3,236.2 152.6,242.4 141.9,236.2 141.9,223.8 152.6,217.6 163.3,223.8" fill="url(#ringG)" stroke="#231815" stroke-width="1.25" stroke-linejoin="round"/><path d="M159.5 234.7L153.2 238.3M145.1 233.6L145.1 226.4M153.2 221.7L159.5 225.3" stroke="#231815" stroke-width="1.25" fill="none"/>
<polygon points="136.6,239.7 132.4,251.4 120.2,253.6 112.2,244.1 116.4,232.4 128.6,230.2" fill="url(#ringG)" stroke="#231815" stroke-width="1.25" stroke-linejoin="round"/><path d="M132.7 241.0L130.2 247.9M121.0 249.5L116.3 243.9M119.5 235.1L126.7 233.9" stroke="#231815" stroke-width="1.25" fill="none"/>
<polygon points="198.3,260.4 192.1,271.1 179.7,271.1 173.5,260.4 179.7,249.7 192.1,249.7" fill="url(#ringG)" stroke="#231815" stroke-width="1.25" stroke-linejoin="round"/><path d="M194.2 261.0L190.6 267.3M181.2 267.3L177.6 261.0M182.3 252.9L189.5 252.9" stroke="#231815" stroke-width="1.25" fill="none"/>
<polygon points="230.8,231.7 220.1,237.9 209.4,231.7 209.4,219.3 220.1,213.1 230.8,219.3" fill="url(#ringG)" stroke="#231815" stroke-width="1.25" stroke-linejoin="round"/><path d="M227.0 230.2L220.7 233.8M212.6 229.1L212.6 221.9M220.7 217.2L227.0 220.8" stroke="#231815" stroke-width="1.25" fill="none"/>
<polygon points="228.9,257.8 220.9,267.3 208.7,265.1 204.5,253.4 212.5,243.9 224.7,246.1" fill="url(#ringG)" stroke="#231815" stroke-width="1.25" stroke-linejoin="round"/><path d="M224.8 257.6L220.1 263.2M210.9 261.6L208.4 254.7M214.4 247.6L221.6 248.8" stroke="#231815" stroke-width="1.25" fill="none"/>
<polygon points="275.5,211.8 269.3,222.5 256.9,222.5 250.7,211.8 256.9,201.1 269.3,201.1" fill="url(#ringG)" stroke="#231815" stroke-width="1.25" stroke-linejoin="round"/><path d="M271.4 212.4L267.8 218.7M258.4 218.7L254.8 212.4M259.5 204.3L266.7 204.3" stroke="#231815" stroke-width="1.25" fill="none"/>
<polygon points="260.9,170.6 250.2,176.8 239.5,170.6 239.5,158.2 250.2,152.0 260.9,158.2" fill="url(#ringG)" stroke="#231815" stroke-width="1.25" stroke-linejoin="round"/><path d="M257.1 169.1L250.8 172.7M242.7 168.0L242.7 160.8M250.8 156.1L257.1 159.7" stroke="#231815" stroke-width="1.25" fill="none"/>
<polygon points="286.5,181.2 282.3,192.9 270.1,195.1 262.1,185.6 266.3,173.9 278.5,171.7" fill="url(#ringG)" stroke="#231815" stroke-width="1.25" stroke-linejoin="round"/><path d="M282.6 182.5L280.1 189.4M270.9 191.0L266.2 185.4M269.4 176.6L276.6 175.4" stroke="#231815" stroke-width="1.25" fill="none"/>
<circle cx="203.3" cy="96.7" r="4.8" fill="url(#oG)" stroke="#5e1c0e" stroke-width="1"/><circle cx="203.3" cy="96.7" r="2.7" fill="none" stroke="#6e2412" stroke-width="1"/>
<circle cx="189.2" cy="108.3" r="4.8" fill="url(#oG)" stroke="#5e1c0e" stroke-width="1"/><circle cx="189.2" cy="108.3" r="2.7" fill="none" stroke="#6e2412" stroke-width="1"/>
<circle cx="175" cy="109.2" r="4.8" fill="url(#oG)" stroke="#5e1c0e" stroke-width="1"/><circle cx="175" cy="109.2" r="2.7" fill="none" stroke="#6e2412" stroke-width="1"/>
<circle cx="165.8" cy="100" r="5" fill="url(#pG)"/>
<text x="165.8" y="103.2" font-size="9" text-anchor="middle" fill="#3a1a0a" font-family="Liberation Sans, sans-serif">P</text>
<circle cx="193" cy="53.3" r="8.8" fill="url(#fgG)" stroke="#1a2f5a" stroke-width="0.7"/>
<text x="193" y="56.9" font-size="10" text-anchor="middle" fill="#141a2a" font-family="Liberation Sans, sans-serif">FG</text>
<circle cx="238.3" cy="145" r="4.8" fill="url(#oG)" stroke="#5e1c0e" stroke-width="1"/><circle cx="238.3" cy="145" r="2.7" fill="none" stroke="#6e2412" stroke-width="1"/>
<circle cx="255.8" cy="150.8" r="4.8" fill="url(#oG)" stroke="#5e1c0e" stroke-width="1"/><circle cx="255.8" cy="150.8" r="2.7" fill="none" stroke="#6e2412" stroke-width="1"/>
<circle cx="230.8" cy="132.5" r="4.8" fill="url(#oG)" stroke="#5e1c0e" stroke-width="1"/><circle cx="230.8" cy="132.5" r="2.7" fill="none" stroke="#6e2412" stroke-width="1"/>
<circle cx="233.7" cy="120" r="5" fill="url(#pG)"/>
<text x="233.7" y="123.2" font-size="9" text-anchor="middle" fill="#3a1a0a" font-family="Liberation Sans, sans-serif">P</text>
<circle cx="287.5" cy="120.8" r="8.8" fill="url(#fgG)" stroke="#1a2f5a" stroke-width="0.7"/>
<text x="287.5" y="124.4" font-size="10" text-anchor="middle" fill="#141a2a" font-family="Liberation Sans, sans-serif">FG</text>
<circle cx="130.7" cy="114.7" r="4.8" fill="url(#oG)" stroke="#5e1c0e" stroke-width="1"/><circle cx="130.7" cy="114.7" r="2.7" fill="none" stroke="#6e2412" stroke-width="1"/>
<circle cx="133.8" cy="132.6" r="4.8" fill="url(#oG)" stroke="#5e1c0e" stroke-width="1"/><circle cx="133.8" cy="132.6" r="2.7" fill="none" stroke="#6e2412" stroke-width="1"/>
<circle cx="126.4" cy="145.5" r="4.8" fill="url(#oG)" stroke="#5e1c0e" stroke-width="1"/><circle cx="126.4" cy="145.5" r="2.7" fill="none" stroke="#6e2412" stroke-width="1"/>
<circle cx="113.9" cy="149.2" r="5" fill="url(#pG)"/>
<text x="113.9" y="152.4" font-size="9" text-anchor="middle" fill="#3a1a0a" font-family="Liberation Sans, sans-serif">P</text>
<circle cx="87.7" cy="102.1" r="8.8" fill="url(#fgG)" stroke="#1a2f5a" stroke-width="0.7"/>
<text x="87.7" y="105.7" font-size="10" text-anchor="middle" fill="#141a2a" font-family="Liberation Sans, sans-serif">FG</text>
<circle cx="109.8" cy="186.6" r="4.8" fill="url(#oG)" stroke="#5e1c0e" stroke-width="1"/><circle cx="109.8" cy="186.6" r="2.7" fill="none" stroke="#6e2412" stroke-width="1"/>
<circle cx="126.7" cy="193.3" r="4.8" fill="url(#oG)" stroke="#5e1c0e" stroke-width="1"/><circle cx="126.7" cy="193.3" r="2.7" fill="none" stroke="#6e2412" stroke-width="1"/>
<circle cx="134.1" cy="205.6" r="4.8" fill="url(#oG)" stroke="#5e1c0e" stroke-width="1"/><circle cx="134.1" cy="205.6" r="2.7" fill="none" stroke="#6e2412" stroke-width="1"/>
<circle cx="131.1" cy="218.1" r="5" fill="url(#pG)"/>
<text x="131.1" y="221.3" font-size="9" text-anchor="middle" fill="#3a1a0a" font-family="Liberation Sans, sans-serif">P</text>
<circle cx="77" cy="217.4" r="8.8" fill="url(#fgG)" stroke="#1a2f5a" stroke-width="0.7"/>
<text x="77" y="221.0" font-size="10" text-anchor="middle" fill="#141a2a" font-family="Liberation Sans, sans-serif">FG</text>
<circle cx="161.5" cy="241.1" r="4.8" fill="url(#oG)" stroke="#5e1c0e" stroke-width="1"/><circle cx="161.5" cy="241.1" r="2.7" fill="none" stroke="#6e2412" stroke-width="1"/>
<circle cx="174.8" cy="229.3" r="4.8" fill="url(#oG)" stroke="#5e1c0e" stroke-width="1"/><circle cx="174.8" cy="229.3" r="2.7" fill="none" stroke="#6e2412" stroke-width="1"/>
<circle cx="189.6" cy="229.3" r="4.8" fill="url(#oG)" stroke="#5e1c0e" stroke-width="1"/><circle cx="189.6" cy="229.3" r="2.7" fill="none" stroke="#6e2412" stroke-width="1"/>
<circle cx="199.3" cy="238.1" r="5" fill="url(#pG)"/>
<text x="199.3" y="241.3" font-size="9" text-anchor="middle" fill="#3a1a0a" font-family="Liberation Sans, sans-serif">P</text>
<circle cx="171.9" cy="284.8" r="8.8" fill="url(#fgG)" stroke="#1a2f5a" stroke-width="0.7"/>
<text x="171.9" y="288.4" font-size="10" text-anchor="middle" fill="#141a2a" font-family="Liberation Sans, sans-serif">FG</text>
<circle cx="231.3" cy="205.7" r="4.8" fill="url(#oG)" stroke="#5e1c0e" stroke-width="1"/><circle cx="231.3" cy="205.7" r="2.7" fill="none" stroke="#6e2412" stroke-width="1"/>
<circle cx="234.4" cy="222.9" r="4.8" fill="url(#oG)" stroke="#5e1c0e" stroke-width="1"/><circle cx="234.4" cy="222.9" r="2.7" fill="none" stroke="#6e2412" stroke-width="1"/>
<circle cx="238.2" cy="192.8" r="4.8" fill="url(#oG)" stroke="#5e1c0e" stroke-width="1"/><circle cx="238.2" cy="192.8" r="2.7" fill="none" stroke="#6e2412" stroke-width="1"/>
<circle cx="250.2" cy="189.4" r="5" fill="url(#pG)"/>
<text x="250.2" y="192.6" font-size="9" text-anchor="middle" fill="#3a1a0a" font-family="Liberation Sans, sans-serif">P</text>
<circle cx="277.3" cy="235.9" r="8.8" fill="url(#fgG)" stroke="#1a2f5a" stroke-width="0.7"/>
<text x="277.3" y="239.5" font-size="10" text-anchor="middle" fill="#141a2a" font-family="Liberation Sans, sans-serif">FG</text>
<rect x="14" y="35.6" width="343" height="274" rx="25" fill="none" stroke="#111" stroke-width="1.6" stroke-dasharray="6.5 6"/>
<g font-family="Liberation Sans, sans-serif">
<text x="19.5" y="377" font-size="17" fill="#231815">Ligand</text>
<line x1="78" y1="372.4" x2="126.5" y2="372.4" stroke="#231815" stroke-width="1"/>
<text x="130" y="377" font-size="17" fill="#2b3f91">S<tspan font-size="10" dy="2.5">1</tspan></text>
<line x1="149" y1="372.4" x2="246" y2="372.4" stroke="#231815" stroke-width="1"/>
<path d="M251.2 372.4 L244.5 369.6 L244.5 375.2 Z" fill="#231815"/>
<text x="253.5" y="377" font-size="17" fill="#1b6db5">T<tspan font-size="10" dy="2.5">1</tspan></text>
<line x1="273" y1="372.4" x2="370" y2="372.4" stroke="#231815" stroke-width="1"/>
<path d="M375.2 372.4 L368.5 369.6 L368.5 375.2 Z" fill="#231815"/>
<text x="380" y="377" font-size="17" fill="#1f9a95">Tb<tspan font-size="10" dy="-7">3+</tspan></text>
<rect x="96" y="408.7" width="94" height="3.8" fill="#1f2d5c"/>
<rect x="96" y="494.6" width="94" height="3.8" fill="#1f2d5c"/>
<rect x="96" y="517.1" width="94" height="3.8" fill="#1f2d5c"/>
<rect x="96" y="532.0" width="94" height="3.8" fill="#1f2d5c"/>
<rect x="96" y="539.1" width="94" height="3.8" fill="#1f2d5c"/>
<text x="90.5" y="415.8" font-size="15.5" text-anchor="end" fill="#231815">TPPOA</text>
<text x="90.5" y="497.6" font-size="15.5" text-anchor="end" fill="#231815">CzPPOA</text>
<text x="90.5" y="515.6" font-size="15.5" text-anchor="end" fill="#231815">DMACPPOA</text>
<text x="90.5" y="533" font-size="15.5" text-anchor="end" fill="#231815">tBCzPPOA</text>
<text x="90.5" y="552" font-size="15.5" text-anchor="end" fill="#231815">DPACPPOA</text>
<text x="116.5" y="405.6" font-size="15.5" fill="#2b3f91">3.78 eV</text>
<text x="116.7" y="490.6" font-size="15.5" fill="#2b3f91">3.15</text>
<text x="116.7" y="512.8" font-size="15.5" fill="#2b3f91">3.07</text>
<text x="116.7" y="531.3" font-size="15.5" fill="#2b3f91">3.01</text>
<text x="116.7" y="556.9" font-size="15.5" fill="#2b3f91">2.98</text>
<rect x="219" y="515.0" width="94" height="4" fill="#1b6db5"/>
<rect x="219" y="524.3" width="94" height="4" fill="#1b6db5"/>
<rect x="219" y="539.3" width="94" height="4" fill="#1b6db5"/>
<rect x="219" y="546.8" width="94" height="4" fill="#1b6db5"/>
<rect x="219" y="569.5" width="94" height="4" fill="#1b6db5"/>
<line x1="190" y1="410.6" x2="219" y2="517" stroke="#231815" stroke-width="1"/>
<line x1="190" y1="496.5" x2="219" y2="526.3" stroke="#231815" stroke-width="1"/>
<line x1="190" y1="519" x2="219" y2="541.3" stroke="#231815" stroke-width="1"/>
<line x1="190" y1="533.9" x2="219" y2="571.5" stroke="#231815" stroke-width="1"/>
<line x1="190" y1="541" x2="219" y2="548.8" stroke="#231815" stroke-width="1"/>
<text x="0" y="5.58" font-size="15.5" text-anchor="middle" fill="#231815" transform="translate(220 484.4) rotate(73.4)">0.71</text>
<text x="0" y="5.40" font-size="15" text-anchor="middle" fill="#231815" transform="translate(201.1 497.2) rotate(46)">0.11</text>
<text x="0" y="4.68" font-size="13" text-anchor="middle" fill="#231815" transform="translate(204.1 522.6) rotate(37)">0.09</text>
<text x="0" y="4.32" font-size="12" text-anchor="middle" fill="#231815" transform="translate(205.3 539.8) rotate(20)">0.03</text>
<text x="0" y="5.40" font-size="15" text-anchor="middle" fill="#231815" transform="translate(201.1 562.9) rotate(51)">0.13</text>
<text x="212" y="449" font-size="15" fill="#231815">ISC</text>
<text x="282" y="438.8" font-size="15.5" fill="#231815">Endothermic</text>
<text x="281.3" y="458" font-size="15.5" fill="#231815">triplet ET</text>
<text x="293.3" y="500.2" font-size="15.5" fill="#231815">Triplet ET</text>
<rect x="352.2" y="475.5" width="94" height="4" fill="#1f9a95"/>
<text x="390" y="473.7" font-size="15.5" fill="#1f9a95">3.24 eV</text>
<text x="450" y="482" font-size="15.5" fill="#1f9a95"><tspan font-size="9" dy="-6">5</tspan><tspan dy="6">D</tspan><tspan font-size="10" dy="3">3</tspan></text>
<rect x="352" y="615.2" width="94" height="4" fill="#1f9a95"/>
<text x="392.8" y="610.8" font-size="15.5" fill="#1f9a95">2.55 eV</text>
<text x="450" y="622" font-size="15.5" fill="#1f9a95"><tspan font-size="9" dy="-6">5</tspan><tspan dy="6">D</tspan><tspan font-size="10" dy="3">4</tspan></text>
<line x1="380.7" y1="480" x2="380.7" y2="611" stroke="#231815" stroke-width="2.3" stroke-dasharray="11 6"/>
<path d="M374.3 596 L380.7 613.8 L387.1 596" fill="none" stroke="#231815" stroke-width="2"/>
<rect x="352" y="715.2" width="93.6" height="3.6" fill="#231815"/>
<rect x="352" y="725.2" width="93.6" height="3.6" fill="#231815"/>
<rect x="352" y="731.2" width="93.6" height="3.6" fill="#231815"/>
<rect x="352" y="743.8" width="93.6" height="3.6" fill="#231815"/>
<rect x="352" y="756.1" width="93.6" height="3.6" fill="#231815"/>
<rect x="352" y="772.9" width="93.6" height="3.6" fill="#231815"/>
<text x="343.7" y="718" font-size="11.5" text-anchor="middle" fill="#231815">1</text>
<text x="343.7" y="728.8" font-size="11.5" text-anchor="middle" fill="#231815">2</text>
<text x="343.7" y="738.9" font-size="11.5" text-anchor="middle" fill="#231815">3</text>
<text x="343.7" y="750" font-size="11.5" text-anchor="middle" fill="#231815">4</text>
<text x="343.7" y="761" font-size="11.5" text-anchor="middle" fill="#231815">5</text>
<text x="343.7" y="772" font-size="11.5" text-anchor="middle" fill="#231815">6</text>
<text x="450" y="749.7" font-size="15.5" fill="#231815"><tspan font-size="9" dy="-6">7</tspan><tspan dy="6">F</tspan><tspan font-size="10" dy="3">j</tspan></text>
<rect x="369.5" y="619" width="3" height="145.39999999999998" fill="#3199d6"/>
<path d="M364.8 763.4 L377.2 763.4 L371 774.4 Z" fill="#3199d6"/>
<rect x="386.75" y="619" width="5.5" height="128.39999999999998" fill="#1f9a95"/>
<path d="M383.3 746.4 L395.7 746.4 L389.5 757.4 Z" fill="#1f9a95"/>
<rect x="406.5" y="619" width="3" height="115.79999999999995" fill="#e9951f"/>
<path d="M401.8 733.8 L414.2 733.8 L408 744.8 Z" fill="#e9951f"/>
<rect x="424.5" y="619" width="3" height="103.70000000000005" fill="#e2591d"/>
<path d="M419.8 721.7 L432.2 721.7 L426 732.7 Z" fill="#e2591d"/>
<line x1="96" y1="774.7" x2="352" y2="774.7" stroke="#555" stroke-width="1.3"/>
<text x="73" y="781.2" font-size="16.5" font-weight="bold" fill="#231815">S<tspan font-size="10.5" dy="1.5">0</tspan></text>
<line x1="135.2" y1="774.7" x2="135.2" y2="567" stroke="#231815" stroke-width="2"/>
<path d="M129.3 583.6 L135.2 566 L141.9 583.6" fill="none" stroke="#231815" stroke-width="2"/>
<text x="0" y="0" font-size="15.5" text-anchor="middle" fill="#231815" transform="translate(125 682) rotate(-90)">Excitation</text>
<defs>
<linearGradient id="iscG" x1="166" y1="0" x2="268" y2="0" gradientUnits="userSpaceOnUse"><stop offset="0" stop-color="#1d4f9c"/><stop offset="1" stop-color="#1a6cb4"/></linearGradient>
<linearGradient id="endG" x1="273" y1="0" x2="350" y2="0" gradientUnits="userSpaceOnUse"><stop offset="0" stop-color="#1c4a9a"/><stop offset="1" stop-color="#1f9a95"/></linearGradient>
<linearGradient id="tetG" x1="280" y1="505" x2="365" y2="580" gradientUnits="userSpaceOnUse"><stop offset="0" stop-color="#1c4a9a"/><stop offset="1" stop-color="#1f9a95"/></linearGradient>
</defs>
<path d="M166 492.2 C186 472 204 462.5 219 462.3 C236 462.5 250 476 259.5 490.5 L263.9 488.3 L267.8 513.3 L252.8 493.9 L255.6 493.3 C247 479.5 235 466.8 219.5 466 C205 465.8 187 474 166 492.2 Z" fill="url(#iscG)"/>
<path d="M273.1 514 C276 494 296 475 331.7 472 L331.7 468.7 L349.5 473.2 L331.7 479.9 L331.7 476.6 C300 478.5 280 494 273.1 514 Z" fill="url(#endG)"/>
<path d="M277.2 513.5 C300 505 325 502 343 511 C362 521 369.5 540 369.5 560 C369.5 572 368.8 582 368.4 591.2 L357.6 610 L356.9 589.3 L361.8 590 C364 578 364.5 568 364.3 558 C364 540 358 526 341 515.5 C325 507.5 300 508 277.2 513.5 Z" fill="url(#tetG)"/>
</g>
<g font-family="Liberation Sans, sans-serif">
<rect x="564.3" y="391.3" width="405.3" height="373.7" fill="none" stroke="#231815" stroke-width="1.4"/>
<g stroke="#7a7a7a" stroke-opacity="0.42" stroke-width="1.1" stroke-dasharray="4.3 4.1"><line x1="608.6" y1="391.3" x2="608.6" y2="765"/><line x1="650.8" y1="391.3" x2="650.8" y2="765"/><line x1="693.0" y1="391.3" x2="693.0" y2="765"/><line x1="735.2" y1="391.3" x2="735.2" y2="765"/><line x1="777.4" y1="435.8" x2="777.4" y2="765"/><line x1="819.6" y1="475.5" x2="819.6" y2="765"/><line x1="861.8" y1="475.5" x2="861.8" y2="765"/><line x1="904.0" y1="554.9" x2="904.0" y2="765"/><line x1="946.2" y1="554.9" x2="946.2" y2="765"/><line x1="564.3" y1="753.4" x2="969.6" y2="753.4"/><line x1="564.3" y1="713.7" x2="969.6" y2="713.7"/><line x1="564.3" y1="674.0" x2="969.6" y2="674.0"/><line x1="564.3" y1="634.3" x2="969.6" y2="634.3"/><line x1="564.3" y1="594.6" x2="969.6" y2="594.6"/><line x1="564.3" y1="554.9" x2="969.6" y2="554.9"/><line x1="564.3" y1="515.2" x2="861.8" y2="515.2"/><line x1="564.3" y1="475.5" x2="861.8" y2="475.5"/><line x1="564.3" y1="435.8" x2="777.4" y2="435.8"/></g>
<g stroke="#8a8a8a" stroke-width="1.1"><line x1="564.3" y1="753.4" x2="569" y2="753.4"/><line x1="564.3" y1="713.7" x2="569" y2="713.7"/><line x1="564.3" y1="674.0" x2="569" y2="674.0"/><line x1="564.3" y1="634.3" x2="569" y2="634.3"/><line x1="564.3" y1="594.6" x2="569" y2="594.6"/><line x1="564.3" y1="554.9" x2="569" y2="554.9"/><line x1="564.3" y1="515.2" x2="569" y2="515.2"/><line x1="564.3" y1="475.5" x2="569" y2="475.5"/><line x1="564.3" y1="435.8" x2="569" y2="435.8"/><line x1="608.6" y1="765" x2="608.6" y2="758.5"/><line x1="650.8" y1="765" x2="650.8" y2="761"/><line x1="693.0" y1="765" x2="693.0" y2="758.5"/><line x1="735.2" y1="765" x2="735.2" y2="761"/><line x1="777.4" y1="765" x2="777.4" y2="758.5"/><line x1="819.6" y1="765" x2="819.6" y2="761"/><line x1="861.8" y1="765" x2="861.8" y2="758.5"/><line x1="904.0" y1="765" x2="904.0" y2="761"/><line x1="946.2" y1="765" x2="946.2" y2="758.5"/></g>
<text x="608.6" y="784.6" font-size="14.5" text-anchor="middle" fill="#231815">0</text>
<text x="650.8" y="784.6" font-size="14.5" text-anchor="middle" fill="#231815">0.1</text>
<text x="693.0" y="784.6" font-size="14.5" text-anchor="middle" fill="#231815">0.2</text>
<text x="735.2" y="784.6" font-size="14.5" text-anchor="middle" fill="#231815">0.3</text>
<text x="777.4" y="784.6" font-size="14.5" text-anchor="middle" fill="#231815">0.4</text>
<text x="819.6" y="784.6" font-size="14.5" text-anchor="middle" fill="#231815">0.5</text>
<text x="861.8" y="784.6" font-size="14.5" text-anchor="middle" fill="#231815">0.6</text>
<text x="904.0" y="784.6" font-size="14.5" text-anchor="middle" fill="#231815">0.7</text>
<text x="946.2" y="784.6" font-size="14.5" text-anchor="middle" fill="#231815">0.8</text>
<text x="557.3" y="758.6" font-size="14.5" text-anchor="end" fill="#231815">0</text>
<text x="557.3" y="679.2" font-size="14.5" text-anchor="end" fill="#231815">0.2</text>
<text x="557.3" y="599.8" font-size="14.5" text-anchor="end" fill="#231815">0.4</text>
<text x="557.3" y="520.4" font-size="14.5" text-anchor="end" fill="#231815">0.6</text>
<text x="557.3" y="441.0" font-size="14.5" text-anchor="end" fill="#231815">0.8</text>
<text x="763.5" y="807.2" font-size="17" font-style="italic" fill="#231815">x</text>
<text x="519" y="584" font-size="17" font-style="italic" fill="#231815">y</text>
<g stroke-width="0.9" stroke-opacity="0.85"><line x1="682.5" y1="750.5" x2="679.6" y2="756.9" stroke="#4a4aa0"/><line x1="682.4" y1="750.5" x2="679.6" y2="756.9" stroke="#4a4aa0"/><line x1="682.4" y1="750.5" x2="679.5" y2="756.9" stroke="#4a4aa0"/><line x1="682.3" y1="750.5" x2="679.4" y2="756.9" stroke="#4a4aa0"/><line x1="682.1" y1="750.6" x2="679.3" y2="757.0" stroke="#4a4aa0"/><line x1="682.0" y1="750.6" x2="679.2" y2="757.0" stroke="#4a4aa0"/><line x1="681.8" y1="750.6" x2="679.0" y2="757.0" stroke="#4a4aa0"/><line x1="681.6" y1="750.6" x2="678.8" y2="757.0" stroke="#4a4aa0"/><line x1="681.3" y1="750.5" x2="678.5" y2="756.8" stroke="#4a4aa0"/><line x1="680.9" y1="750.2" x2="678.0" y2="756.6" stroke="#4a4aa0"/><line x1="680.3" y1="749.8" x2="677.3" y2="756.1" stroke="#4a4aa0"/><line x1="679.5" y1="749.1" x2="676.5" y2="755.4" stroke="#4a4aa0"/><line x1="678.4" y1="748.2" x2="675.4" y2="754.5" stroke="#4a4aa0"/><line x1="677.0" y1="747.0" x2="673.9" y2="753.3" stroke="#4a4aa0"/><line x1="675.1" y1="745.5" x2="671.9" y2="751.7" stroke="#4a4aa0"/><line x1="672.8" y1="743.5" x2="669.4" y2="749.6" stroke="#4a4aa0"/><line x1="670.1" y1="740.9" x2="665.0" y2="745.8" stroke="#3a5aa8"/><line x1="666.6" y1="737.0" x2="661.0" y2="741.2" stroke="#3a5aa8"/><line x1="661.8" y1="729.9" x2="655.8" y2="733.5" stroke="#3a5aa8"/><line x1="655.8" y1="718.5" x2="649.4" y2="721.5" stroke="#3a5aa8"/><line x1="648.1" y1="700.4" x2="641.5" y2="702.9" stroke="#3b7dbd"/><line x1="638.5" y1="673.4" x2="631.8" y2="675.4" stroke="#3b7dbd"/><line x1="628.7" y1="636.1" x2="621.9" y2="637.6" stroke="#5ab8d2"/><line x1="619.5" y1="589.4" x2="612.6" y2="590.5" stroke="#5ab8d2"/><line x1="613.1" y1="539.6" x2="606.1" y2="540.2" stroke="#6ab27a"/><line x1="611.2" y1="493.5" x2="604.2" y2="493.3" stroke="#6ab27a"/><line x1="615.4" y1="455.8" x2="608.6" y2="454.2" stroke="#6ab24a"/><line x1="625.8" y1="431.6" x2="620.3" y2="427.4" stroke="#6ab24a"/><line x1="640.1" y1="423.4" x2="638.9" y2="416.5" stroke="#6ab24a"/><line x1="656.5" y1="426.3" x2="658.7" y2="419.7" stroke="#6ab24a"/><line x1="673.4" y1="434.3" x2="676.7" y2="428.2" stroke="#6ab24a"/><line x1="689.5" y1="443.9" x2="693.3" y2="438.1" stroke="#6ab24a"/><line x1="704.9" y1="454.7" x2="709.1" y2="449.1" stroke="#6ab24a"/><line x1="720.1" y1="466.6" x2="724.5" y2="461.2" stroke="#6ab24a"/><line x1="735.2" y1="479.3" x2="739.8" y2="474.0" stroke="#a8c83a"/><line x1="750.3" y1="492.6" x2="754.9" y2="487.3" stroke="#a8c83a"/><line x1="765.4" y1="506.2" x2="770.1" y2="501.0" stroke="#a8c83a"/><line x1="780.4" y1="520.1" x2="785.1" y2="514.9" stroke="#a8c83a"/><line x1="795.3" y1="533.9" x2="800.1" y2="528.8" stroke="#e8a030"/><line x1="810.0" y1="547.6" x2="814.8" y2="542.5" stroke="#e8a030"/><line x1="824.2" y1="560.9" x2="829.0" y2="555.8" stroke="#e8a030"/><line x1="837.8" y1="573.7" x2="842.6" y2="568.6" stroke="#e8a030"/><line x1="850.7" y1="585.7" x2="855.4" y2="580.6" stroke="#e8a030"/><line x1="862.3" y1="596.7" x2="867.1" y2="591.6" stroke="#e06838"/><line x1="872.5" y1="606.2" x2="877.3" y2="601.1" stroke="#e06838"/><line x1="881.5" y1="614.6" x2="886.2" y2="609.5" stroke="#e06838"/><line x1="888.9" y1="621.5" x2="893.7" y2="616.4" stroke="#e06838"/><line x1="894.9" y1="627.2" x2="899.7" y2="622.1" stroke="#d83838"/><line x1="899.7" y1="631.7" x2="904.5" y2="626.6" stroke="#d83838"/><line x1="903.3" y1="634.5" x2="910.2" y2="635.0" stroke="#d83838"/><line x1="906.3" y1="637.4" x2="913.3" y2="638.0" stroke="#d83838"/><line x1="908.9" y1="639.8" x2="915.9" y2="640.5" stroke="#d83838"/><line x1="911.0" y1="641.8" x2="918.0" y2="642.6" stroke="#d83838"/><line x1="912.7" y1="643.3" x2="919.7" y2="644.2" stroke="#d83838"/><line x1="914.0" y1="644.5" x2="920.9" y2="645.4" stroke="#d83838"/><line x1="915.0" y1="645.4" x2="921.9" y2="646.3" stroke="#d83838"/><line x1="915.7" y1="646.1" x2="922.6" y2="647.0" stroke="#d83838"/><line x1="916.1" y1="646.5" x2="923.1" y2="647.5" stroke="#d83838"/><line x1="916.5" y1="646.9" x2="923.4" y2="647.8" stroke="#d83838"/><line x1="916.8" y1="647.1" x2="923.7" y2="648.1" stroke="#d83838"/><line x1="917.1" y1="647.4" x2="924.0" y2="648.4" stroke="#d83838"/><line x1="917.4" y1="647.7" x2="924.3" y2="648.6" stroke="#d83838"/><line x1="917.5" y1="647.8" x2="924.5" y2="648.8" stroke="#d83838"/><line x1="917.6" y1="647.9" x2="924.5" y2="648.9" stroke="#d83838"/><line x1="917.7" y1="647.9" x2="924.6" y2="648.9" stroke="#d83838"/></g>
<text x="625.3" y="412.5" font-size="14.5" fill="#6db34f">520</text>
<text x="578" y="456.7" font-size="14.5" fill="#6db34f">510</text>
<text x="709.2" y="448" font-size="14.5" fill="#7db844">540</text>
<text x="772.5" y="502" font-size="14.5" fill="#a5c63f">560</text>
<text x="829.8" y="555" font-size="14.5" fill="#e9a136">580</text>
<text x="877.4" y="600.5" font-size="14.5" fill="#e2683a">600</text>
<text x="907.3" y="627" font-size="14.5" fill="#d9383c">620</text>
<text x="926.1" y="651.5" font-size="14.5" fill="#c0303f">700</text>
<text x="577.5" y="545.8" font-size="14.5" fill="#6fb583">500</text>
<text x="592" y="646.6" font-size="14.5" fill="#5ab8d2">490</text>
<text x="609" y="713.5" font-size="14.5" fill="#3b7dbd">480</text>
<text x="627.5" y="746.4" font-size="14.5" fill="#3b4896">460</text>
<text x="686.1" y="762.1" font-size="14.5" fill="#574a9e">380</text>
<text x="960.3" y="414.4" font-size="14.5" text-anchor="end" fill="#231815">NaGd<tspan font-size="10" dy="1">0.6</tspan><tspan dy="-1">F</tspan><tspan font-size="10" dy="1">4</tspan><tspan dy="-1">:Tb</tspan><tspan font-size="10" dy="1">0.4-x</tspan><tspan dy="-1">Eu</tspan><tspan font-size="10" dy="1">x</tspan><tspan dy="-1">@CzPPOA</tspan></text>
<text x="924" y="438.5" font-size="14" text-anchor="middle" fill="#231815">PL</text>
<text x="952.2" y="438.5" font-size="14" text-anchor="middle" fill="#231815">EL</text>
<text x="841" y="459" font-size="14" fill="#231815">x</text><text x="857" y="459" font-size="14" fill="#231815">=</text>
<text x="872" y="459.6" font-size="14" fill="#231815">0</text>
<circle cx="924" cy="454.6" r="6.4" fill="#231815"/>
<circle cx="952.2" cy="454.6" r="5.5" fill="#fff" stroke="#231815" stroke-width="1.8"/>
<text x="872" y="478.3" font-size="14" fill="#231815">0.01</text>
<circle cx="924" cy="473.3" r="6.4" fill="#e0141e"/>
<circle cx="952.2" cy="473.3" r="5.5" fill="#fff" stroke="#e0141e" stroke-width="1.8"/>
<text x="872" y="496.4" font-size="14" fill="#231815">0.05</text>
<circle cx="924" cy="491.4" r="6.4" fill="#1b9244"/>
<circle cx="952.2" cy="491.4" r="5.5" fill="#fff" stroke="#1b9244" stroke-width="1.8"/>
<text x="872" y="514.7" font-size="14" fill="#231815">0.08</text>
<circle cx="924" cy="509.7" r="6.4" fill="#1b2f80"/>
<circle cx="952.2" cy="509.7" r="5.5" fill="#fff" stroke="#1b2f80" stroke-width="1.8"/>
<text x="872" y="532.8" font-size="14" fill="#231815">0.10</text>
<circle cx="924" cy="527.8" r="6.4" fill="#2897d8"/>
<circle cx="952.2" cy="527.8" r="5.5" fill="#fff" stroke="#2897d8" stroke-width="1.8"/>
<circle cx="726.7" cy="538.4" r="5.6" fill="#fff" stroke="#231815" stroke-width="2.2"/>
<circle cx="743.4" cy="550.3" r="6.4" fill="#231815"/>
<circle cx="730.7" cy="570.4" r="5.6" fill="#fff" stroke="#e0141e" stroke-width="2.2"/>
<circle cx="760" cy="574.1" r="5.6" fill="#fff" stroke="#1b9244" stroke-width="2.2"/>
<circle cx="768.9" cy="581.1" r="5.6" fill="#fff" stroke="#1b2f80" stroke-width="2.2"/>
<circle cx="768.9" cy="586.3" r="5.6" fill="#fff" stroke="#2897d8" stroke-width="2.2"/>
<circle cx="798.2" cy="566.3" r="6.4" fill="#e0141e"/>
<circle cx="827.7" cy="590" r="6.4" fill="#1b9244"/>
<circle cx="835" cy="597" r="6.4" fill="#1b2f80"/>
<circle cx="836.3" cy="598.9" r="6.4" fill="#2897d8"/>
<path d="M726.7 538.4 L730.7 570.4 C742 566 752 568 760 574.1 C764 576 767 580 768.9 586" fill="none" stroke="#231815" stroke-width="1.5" stroke-dasharray="4.5 3.5"/>
<path d="M743.4 550.3 C770 553 786 559 798.2 566.3 C812 574 822 583 836.3 598.9" fill="none" stroke="#231815" stroke-width="1.5" stroke-dasharray="4.5 3.5"/>
</g>
<g font-family="Liberation Sans, sans-serif">
<rect x="973.5" y="391.5" width="93.5" height="373.5" fill="#080505"/>
<defs>
<linearGradient id="ph1" x1="0" y1="0" x2="1" y2="0"><stop offset="0" stop-color="#3a9c46"/><stop offset="0.12" stop-color="#3e9c4a"/><stop offset="0.15" stop-color="#56a676"/><stop offset="0.8" stop-color="#5aa87a"/><stop offset="0.83" stop-color="#2f8e3e"/><stop offset="1" stop-color="#1c5e2a"/></linearGradient>
<linearGradient id="ph2" x1="0" y1="0" x2="1" y2="0"><stop offset="0" stop-color="#8a8a60"/><stop offset="0.12" stop-color="#c6c6c0"/><stop offset="0.8" stop-color="#d2d0d2"/><stop offset="1" stop-color="#9a9a80"/></linearGradient>
<linearGradient id="ph3" x1="0" y1="0" x2="1" y2="1"><stop offset="0" stop-color="#d6bcd8"/><stop offset="1" stop-color="#cdb2d0"/></linearGradient>
<linearGradient id="ph4" x1="0" y1="0" x2="1" y2="1"><stop offset="0" stop-color="#e6d8ea"/><stop offset="1" stop-color="#dccbe4"/></linearGradient>
</defs>
<path d="M994 419.4 L1051 419.8 C1046 430 1046 446 1051 456 L995 456 C996 444 996 430 994 419.4 Z" fill="url(#ph1)"/>
<rect x="994" y="509.9" width="53" height="41.9" fill="url(#ph2)"/>
<rect x="998.3" y="604.1" width="44.3" height="42.5" fill="url(#ph3)"/>
<rect x="998.3" y="699.3" width="44.3" height="39.3" fill="url(#ph4)"/>
<text x="1019" y="410.4" font-size="14.2" text-anchor="middle" fill="#fff">x = 0.01</text>
<text x="1019" y="504.5" font-size="14.2" text-anchor="middle" fill="#fff">x = 0.05</text>
<text x="1019" y="598.7" font-size="14.2" text-anchor="middle" fill="#fff">x = 0.08</text>
<text x="1019" y="692.6" font-size="14.2" text-anchor="middle" fill="#fff">x = 0.10</text>
</g>
</svg>
</body></html>
